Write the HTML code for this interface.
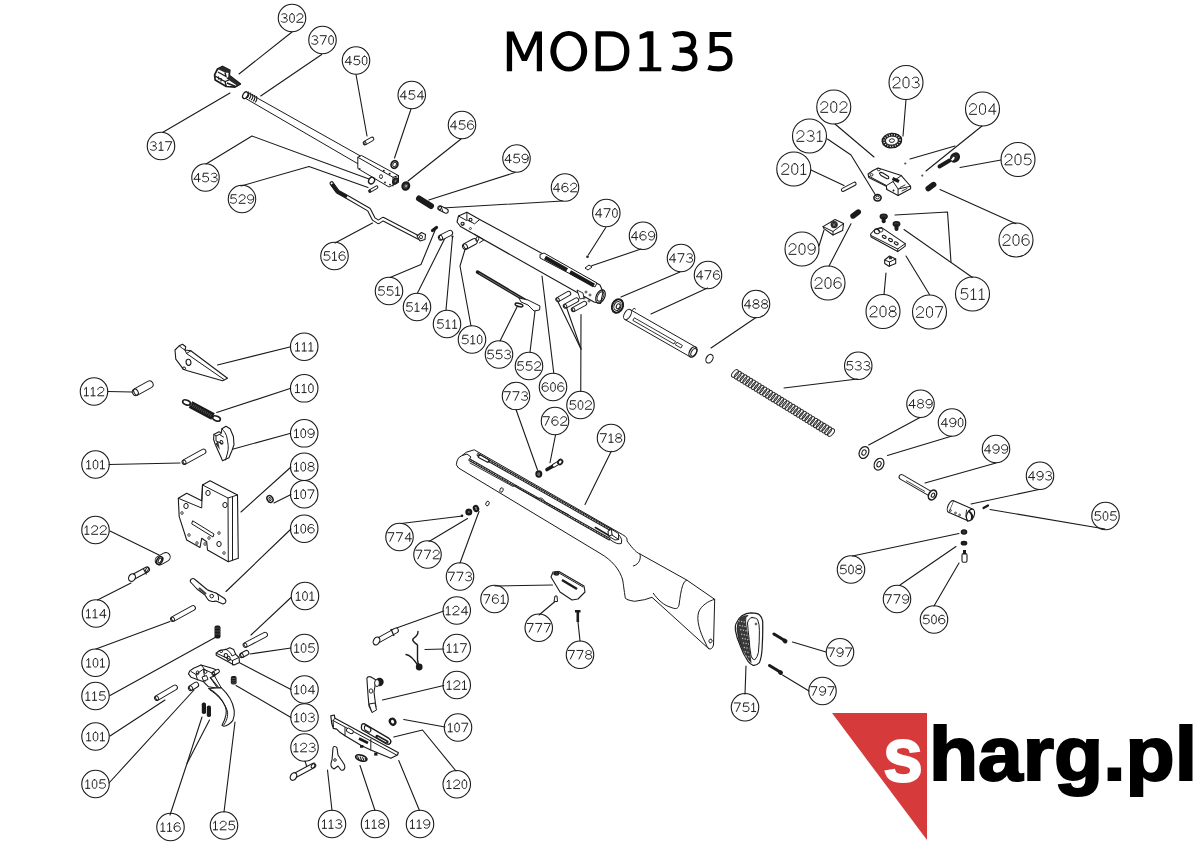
<!DOCTYPE html><html><head><meta charset="utf-8"><style>html,body{margin:0;padding:0;background:#fff;width:1200px;height:848px;overflow:hidden}svg{display:block}text{font-family:"Liberation Sans",sans-serif}</style></head><body>
<svg width="1200" height="848" viewBox="0 0 1200 848">
<g fill="none" stroke="#1a1a1a" stroke-width="1.1" stroke-linejoin="round" stroke-linecap="round">
<polyline points="292,32 239,74"/>
<polyline points="321.7,54.5 260.7,96"/>
<polyline points="162.5,132.5 230,93"/>
<polyline points="206,164 252,136 369,179"/>
<polyline points="241,186 309,166.5 368,187.6"/>
<polyline points="356,74.5 367,136"/>
<polyline points="411,109 394.5,158"/>
<polyline points="461,139 408,181"/>
<polyline points="515,172.5 428.75,200"/>
<polyline points="562.5,201 442.5,208"/>
<polyline points="335,243 372.5,223"/>
<polyline points="390,277.5 421,264.5 436,228"/>
<polyline points="417.5,293 445,238"/>
<polyline points="446,310 452.5,237"/>
<polyline points="471,326 460,266 465,249.5"/>
<polyline points="500,341 517.5,306"/>
<polyline points="530,352 535,311"/>
<polyline points="553.75,373 542,276"/>
<polyline points="580.75,391.5 581,314.5"/>
<polyline points="581,349 557.5,300.75"/>
<polyline points="581,349 566,306"/>
<polyline points="516,409.5 537.5,470"/>
<polyline points="555.5,435 550,462.75"/>
<polyline points="605.8,227.5 588.3,255"/>
<polyline points="641,249 591.7,265.8"/>
<polyline points="680,272 621,297"/>
<polyline points="707.5,288 651,314"/>
<polyline points="756,317.5 711,348"/>
<polyline points="857.5,379 784,388"/>
<polyline points="611.25,451.25 585,504.5"/>
<polyline points="920,417.5 868.75,445"/>
<polyline points="951.25,436.25 887.5,455.5"/>
<polyline points="996,463 925,483"/>
<polyline points="1039,489.5 971,504"/>
<polyline points="1105,529 990,509.5"/>
<polyline points="852.5,556 959,533.5"/>
<polyline points="900,585 956,546.5"/>
<polyline points="934,606 959,563"/>
<polyline points="401,523.5 462.5,516"/>
<polyline points="429,541.5 467.5,518.5"/>
<polyline points="460,563 479,511.5"/>
<polyline points="495,586 552.5,585"/>
<polyline points="539,615 555,601.5"/>
<polyline points="580,641 578,622"/>
<polyline points="443.75,611 391,630"/>
<polyline points="443.75,649 425,649.5"/>
<polyline points="443.75,685.5 382.5,700"/>
<polyline points="445,727 403.75,719.5"/>
<polyline points="456,771 422.5,730 393.75,737"/>
<polyline points="332,810.5 327.5,770"/>
<polyline points="375,810.5 360,765.5"/>
<polyline points="419.5,810.5 398.75,760.5"/>
<polyline points="826,652 792.5,642"/>
<polyline points="809,691 782.5,675"/>
<polyline points="745,694 746,666"/>
<polyline points="290.8,346.7 217.5,365"/>
<polyline points="290.8,388.3 216.7,412.5"/>
<polyline points="290.8,433.3 232.5,449.2"/>
<polyline points="108,391.5 132,392"/>
<polyline points="109,464.5 180,463"/>
<polyline points="291,467 241,512"/>
<polyline points="291,494.5 274,503"/>
<polyline points="291,529 226,591.5"/>
<polyline points="110,531 159,555"/>
<polyline points="97.5,600 131,583"/>
<polyline points="96,649 170,621.5"/>
<polyline points="110,695.5 216,637"/>
<polyline points="110,736 165,700"/>
<polyline points="109,783 194,690"/>
<polyline points="170,815 187,763.5 202,717"/>
<polyline points="187,763.5 209.5,720"/>
<polyline points="224,812 235,722"/>
<polyline points="291,597.5 251,635"/>
<polyline points="291,648 250,654"/>
<polyline points="291,689.5 240,663"/>
<polyline points="291,717.5 236,685.5"/>
<polyline points="305,761 307.5,769"/>
<polyline points="906,99.5 903,136"/>
<polyline points="835,124 874,157"/>
<polyline points="827.5,139 851,155 875.5,195"/>
<polyline points="811,170 844,185.5"/>
<polyline points="982,126 926,171"/>
<polyline points="955,146 910,159"/>
<polyline points="1001,160 960,167.5"/>
<polyline points="1016,223.75 940,189.5"/>
<polyline points="819,246 824,230"/>
<polyline points="829,266 851,223.75"/>
<polyline points="884,294.5 886,273"/>
<polyline points="929.5,294.5 906,256"/>
<polyline points="972.5,277.5 904,229.5"/>
<polyline points="895,215 947.5,212 951,262"/>
<circle cx="292" cy="18" r="13.75"/>
<circle cx="322.5" cy="40" r="13.75"/>
<circle cx="356" cy="60.5" r="13.75"/>
<circle cx="411.75" cy="95" r="13.75"/>
<circle cx="462" cy="125" r="13.75"/>
<circle cx="516.5" cy="158.5" r="13.75"/>
<circle cx="565" cy="187.5" r="13.75"/>
<circle cx="161" cy="146" r="13.75"/>
<circle cx="205.5" cy="177.5" r="13.75"/>
<circle cx="242" cy="199" r="13.75"/>
<circle cx="334.5" cy="256" r="13.75"/>
<circle cx="389" cy="291" r="13.75"/>
<circle cx="417" cy="307" r="13.75"/>
<circle cx="447" cy="324" r="13.75"/>
<circle cx="472" cy="339.5" r="13.75"/>
<circle cx="499" cy="354.5" r="13.75"/>
<circle cx="529" cy="366" r="13.75"/>
<circle cx="553" cy="387" r="13.75"/>
<circle cx="516" cy="396" r="13.75"/>
<circle cx="580.5" cy="405" r="13.75"/>
<circle cx="606.3" cy="213" r="13.75"/>
<circle cx="643" cy="235.75" r="13.75"/>
<circle cx="681" cy="258" r="13.75"/>
<circle cx="708" cy="275" r="13.75"/>
<circle cx="756" cy="304" r="13.75"/>
<circle cx="858.25" cy="365.75" r="13.75"/>
<circle cx="555" cy="421" r="13.75"/>
<circle cx="611" cy="438" r="13.75"/>
<circle cx="920.5" cy="403.75" r="13.75"/>
<circle cx="952" cy="422.5" r="13.75"/>
<circle cx="996" cy="449" r="13.75"/>
<circle cx="1040" cy="475.75" r="13.75"/>
<circle cx="1105.5" cy="516" r="13.75"/>
<circle cx="851" cy="569.5" r="13.75"/>
<circle cx="897" cy="599" r="13.75"/>
<circle cx="934" cy="619.5" r="13.75"/>
<circle cx="399.5" cy="537" r="13.75"/>
<circle cx="427.5" cy="554.5" r="13.75"/>
<circle cx="460" cy="576.5" r="13.75"/>
<circle cx="494.5" cy="599" r="13.75"/>
<circle cx="538.75" cy="627.75" r="13.75"/>
<circle cx="580" cy="654.75" r="13.75"/>
<circle cx="456.75" cy="610.5" r="13.75"/>
<circle cx="456.75" cy="648" r="13.75"/>
<circle cx="456.75" cy="685" r="13.75"/>
<circle cx="458" cy="727.5" r="13.75"/>
<circle cx="456.75" cy="784.25" r="13.75"/>
<circle cx="332" cy="824" r="13.75"/>
<circle cx="375" cy="824" r="13.75"/>
<circle cx="420" cy="824" r="13.75"/>
<circle cx="840" cy="652.25" r="13.75"/>
<circle cx="822.5" cy="691" r="13.75"/>
<circle cx="745" cy="707.25" r="13.75"/>
<circle cx="304.2" cy="346.7" r="13.75"/>
<circle cx="304.2" cy="388.3" r="13.75"/>
<circle cx="94" cy="391.5" r="13.75"/>
<circle cx="304.2" cy="433.3" r="13.75"/>
<circle cx="95.5" cy="464.5" r="13.75"/>
<circle cx="304.2" cy="466.7" r="13.75"/>
<circle cx="304.2" cy="494.2" r="13.75"/>
<circle cx="95.5" cy="530" r="13.75"/>
<circle cx="304.2" cy="528.7" r="13.75"/>
<circle cx="96" cy="613.5" r="13.75"/>
<circle cx="305" cy="596" r="13.75"/>
<circle cx="304.5" cy="648" r="13.75"/>
<circle cx="304.5" cy="689.5" r="13.75"/>
<circle cx="304.5" cy="717.5" r="13.75"/>
<circle cx="304.5" cy="747.5" r="13.75"/>
<circle cx="95.5" cy="662.75" r="13.75"/>
<circle cx="95.5" cy="696" r="13.75"/>
<circle cx="95.5" cy="736.5" r="13.75"/>
<circle cx="95.5" cy="784" r="13.75"/>
<circle cx="170.5" cy="827" r="13.75"/>
<circle cx="224" cy="825.5" r="13.75"/>
<circle cx="906" cy="82.5" r="17"/>
<circle cx="833.75" cy="107" r="17"/>
<circle cx="982.5" cy="109" r="17"/>
<circle cx="809.5" cy="136" r="17"/>
<circle cx="1018" cy="159.5" r="17"/>
<circle cx="793.75" cy="169" r="17"/>
<circle cx="1016" cy="240" r="17"/>
<circle cx="802" cy="249" r="17"/>
<circle cx="828" cy="283" r="17"/>
<circle cx="972.5" cy="294" r="17"/>
<circle cx="883" cy="311.5" r="17"/>
<circle cx="929.5" cy="312" r="17"/>
</g>
<g><polygon points="214.6,74.8 217.5,69 222.5,66.4 229.8,70.2 229.2,75.4 240.3,83.9 235,87.1 226.3,86.5 215.2,80.1" fill="#fff" stroke="#1a1a1a" stroke-width="1.7" stroke-linejoin="round"/>
<path d="M217.5,69 L222.5,66.4 L229.8,70.2 L229.5,73 L225,72.5 Z" fill="#2a2a2a"/>
<path d="M229.2,75.4 L240.3,83.9 L236.5,85.2 L226.5,78.5 Z" fill="#2a2a2a"/>
<path d="M215,76 L225,81.5 L229,80 M225,81.5 L226.3,86.5 M218,72 L226,76.5 L225,72.5 M221,78 l0,3.5 M218.5,76.5 l0,3" fill="none" stroke="#1a1a1a" stroke-width="1.3"/>
<path d="M227,83 L235,86.3" stroke="#1a1a1a" stroke-width="1.6"/>
<polygon points="246.6,92 361.5,156.6 357.8,163.7 245.6,98.4" fill="#fff" stroke="#1a1a1a" stroke-width="1.0" stroke-linejoin="round"/>
<ellipse cx="245.3" cy="95.2" rx="2.3" ry="3.6" transform="rotate(30 245.3 95.2)" fill="#fff" stroke="#1a1a1a" stroke-width="1.3"/>
<path d="M248.5,91.6 Q249.7,95.3 247.1,97.9" fill="none" stroke="#1a1a1a" stroke-width="1.1"/>
<path d="M250.5,92.7 Q251.7,96.4 249.1,99.0" fill="none" stroke="#1a1a1a" stroke-width="1.1"/>
<path d="M252.5,93.8 Q253.7,97.5 251.1,100.1" fill="none" stroke="#1a1a1a" stroke-width="1.1"/>
<path d="M254.5,95.0 Q255.7,98.7 253.1,101.3" fill="none" stroke="#1a1a1a" stroke-width="1.1"/>
<path d="M256.5,96.1 Q257.7,99.8 255.1,102.4" fill="none" stroke="#1a1a1a" stroke-width="1.1"/>
<polygon points="357.8,157.3 361.5,155.5 398.5,175.5 398.5,182.5 389,187 357.8,168.5" fill="#fff" stroke="#1a1a1a" stroke-width="1.0" stroke-linejoin="round"/>
<path d="M357.8,157.3 L393,177.3 L398.5,175.5 M393,177.3 L393,186" fill="none" stroke="#1a1a1a" stroke-width="1.0" stroke-linejoin="round" stroke-linecap="round"/>
<ellipse cx="395.3" cy="181" rx="2.3" ry="3.3" transform="rotate(30 395.3 181)" fill="#333" stroke="#1a1a1a" stroke-width="1.2"/>
<ellipse cx="395.6" cy="181" rx="1" ry="1.6" transform="rotate(30 395.6 181)" fill="#888" stroke="#1a1a1a" stroke-width="0.6"/>
<ellipse cx="381" cy="176.6" rx="1.5" ry="2" transform="rotate(0 381 176.6)" fill="none" stroke="#1a1a1a" stroke-width="0.9"/>
<circle cx="383.8" cy="170.8" r="1" fill="#1a1a1a"/><circle cx="389.6" cy="173.8" r="1" fill="#1a1a1a"/><circle cx="385" cy="182.5" r="0.9" fill="#1a1a1a"/><circle cx="390" cy="184.6" r="0.9" fill="#1a1a1a"/><circle cx="359.8" cy="168.8" r="0.8" fill="#1a1a1a"/>
<line x1="365" y1="143" x2="372" y2="139" stroke="#1a1a1a" stroke-width="4.6" stroke-linecap="round"/>
<line x1="365" y1="143" x2="372" y2="139" stroke="#fff" stroke-width="2.6" stroke-linecap="round"/>
<ellipse cx="365" cy="143" rx="0.99" ry="1.50" transform="rotate(-29.7 365 143)" fill="none" stroke="#1a1a1a" stroke-width="1.0"/>
<ellipse cx="394.5" cy="164.5" rx="3.3" ry="3.9" transform="rotate(25 394.5 164.5)" fill="none" stroke="#1a1a1a" stroke-width="1.7"/>
<ellipse cx="394.6" cy="164.5" rx="1.7" ry="2.3" transform="rotate(25 394.6 164.5)" fill="none" stroke="#1a1a1a" stroke-width="0.9"/>
<ellipse cx="371.6" cy="180.6" rx="2.8" ry="3.5" transform="rotate(30 371.6 180.6)" fill="none" stroke="#1a1a1a" stroke-width="1.4"/>
<line x1="370" y1="191" x2="376.5" y2="187.2" stroke="#1a1a1a" stroke-width="3.6" stroke-linecap="round"/>
<line x1="370" y1="191" x2="376.5" y2="187.2" stroke="#fff" stroke-width="1.6" stroke-linecap="round"/>
<ellipse cx="370" cy="191" rx="0.72" ry="1.00" transform="rotate(-30.3 370 191)" fill="none" stroke="#1a1a1a" stroke-width="1.0"/>
<ellipse cx="405.8" cy="186" rx="3.3" ry="3.7" transform="rotate(30 405.8 186)" fill="#555" stroke="#1a1a1a" stroke-width="2.2"/>
<ellipse cx="406.2" cy="186" rx="1.3" ry="1.7" transform="rotate(30 406.2 186)" fill="#aaa" stroke="#1a1a1a" stroke-width="0.6"/>
<line x1="419" y1="198.5" x2="431" y2="206" stroke="#1a1a1a" stroke-width="6" stroke-linecap="round"/>
<line x1="440" y1="208" x2="446" y2="211" stroke="#1a1a1a" stroke-width="5.4" stroke-linecap="round"/>
<line x1="440" y1="208" x2="446" y2="211" stroke="#fff" stroke-width="3.4000000000000004" stroke-linecap="round"/>
<ellipse cx="440" cy="208" rx="1.21" ry="1.90" transform="rotate(26.6 440 208)" fill="none" stroke="#1a1a1a" stroke-width="1.0"/>
<line x1="441" y1="206" x2="443" y2="212" stroke="#1a1a1a" stroke-width="0.9"/>
<path d="M331.7,183.4 L337.5,191.6 L346.9,196.9 L369,209.7 L373.7,219 L378.4,222 L383,219 L418.5,237.5" fill="none" stroke="#1a1a1a" stroke-width="4.4" stroke-linejoin="round" stroke-linecap="round"/>
<path d="M331.7,183.4 L337.5,191.6 L346.9,196.9 L369,209.7 L373.7,219 L378.4,222 L383,219 L418.5,237.5" fill="none" stroke="#fff" stroke-width="2.2" stroke-linejoin="round" stroke-linecap="round"/>
<path d="M332,184 L337.5,191.6 L346.9,196.9" fill="none" stroke="#1a1a1a" stroke-width="3.2" stroke-linejoin="round"/>
<polygon points="417,236 421.5,232.5 425.5,234.5 425,239.5 420,241" fill="#fff" stroke="#1a1a1a" stroke-width="1.1" stroke-linejoin="round"/>
<ellipse cx="421" cy="237" rx="1.5" ry="1.8" transform="rotate(0 421 237)" fill="none" stroke="#1a1a1a" stroke-width="0.9"/>
<line x1="432.5" y1="230.5" x2="436.5" y2="227.5" stroke="#1a1a1a" stroke-width="3.2" stroke-linecap="round"/>
<line x1="441" y1="237.5" x2="450" y2="233" stroke="#1a1a1a" stroke-width="6.2" stroke-linecap="round"/>
<line x1="441" y1="237.5" x2="450" y2="233" stroke="#fff" stroke-width="4.2" stroke-linecap="round"/>
<ellipse cx="441" cy="237.5" rx="1.43" ry="2.30" transform="rotate(-26.6 441 237.5)" fill="none" stroke="#1a1a1a" stroke-width="1.0"/>
<circle cx="452.5" cy="236.5" r="1.1" fill="#1a1a1a"/>
<line x1="465.5" y1="246.3" x2="474.2" y2="241.6" stroke="#1a1a1a" stroke-width="7.0" stroke-linecap="round"/>
<line x1="465.5" y1="246.3" x2="474.2" y2="241.6" stroke="#fff" stroke-width="5.0" stroke-linecap="round"/>
<ellipse cx="465.5" cy="246.3" rx="1.65" ry="2.70" transform="rotate(-28.4 465.5 246.3)" fill="none" stroke="#1a1a1a" stroke-width="1.0"/>
<polygon points="458.5,216 466.9,212.3 479.7,219.5 600,285 603,292 600.5,303.5 594,302 460.5,226.5 457,222" fill="#fff" stroke="#1a1a1a" stroke-width="1.1" stroke-linejoin="round"/>
<path d="M458.5,216 L466.5,220.5 M466.9,212.3 L466.9,219.8 L474.6,223.8 L479.7,219.5" fill="none" stroke="#1a1a1a" stroke-width="1.0" stroke-linejoin="round" stroke-linecap="round"/>
<ellipse cx="470.6" cy="219.8" rx="1.4" ry="1.5" transform="rotate(0 470.6 219.8)" fill="none" stroke="#1a1a1a" stroke-width="1.1"/>
<ellipse cx="462.6" cy="223.8" rx="1.6" ry="1.6" transform="rotate(0 462.6 223.8)" fill="none" stroke="#1a1a1a" stroke-width="1.1"/>
<circle cx="463.3" cy="224.3" r="0.8" fill="#1a1a1a"/>
<circle cx="470.4" cy="228.5" r="1" fill="none" stroke="#1a1a1a" stroke-width="0.8"/>
<ellipse cx="600.5" cy="296.5" rx="4.2" ry="7" transform="rotate(25 600.5 296.5)" fill="none" stroke="#1a1a1a" stroke-width="1.2"/>
<ellipse cx="600.5" cy="296.5" rx="2.8" ry="5" transform="rotate(25 600.5 296.5)" fill="none" stroke="#1a1a1a" stroke-width="0.9"/>
<path d="M474.6,234.3 L484,239.8 L479.5,242.8" fill="none" stroke="#1a1a1a" stroke-width="1.0" stroke-linejoin="round" stroke-linecap="round"/>
<ellipse cx="477.3" cy="239" rx="1.4" ry="2.3" transform="rotate(25 477.3 239)" fill="none" stroke="#1a1a1a" stroke-width="0.9"/>
<polygon points="540,254.5 544,253 597,283 595,287 540,258" fill="#fff" stroke="#1a1a1a" stroke-width="1" stroke-linejoin="round"/>
<path d="M545,257.5 L567,270 M570,272 L594,285.5" stroke="#1a1a1a" stroke-width="4.2"/>
<circle cx="586" cy="292" r="1" fill="none" stroke="#1a1a1a" stroke-width="0.8"/>
<circle cx="590" cy="295" r="1" fill="none" stroke="#1a1a1a" stroke-width="0.8"/>
<circle cx="584" cy="298" r="1" fill="none" stroke="#1a1a1a" stroke-width="0.8"/>
<circle cx="589" cy="301" r="1" fill="none" stroke="#1a1a1a" stroke-width="0.8"/>
<polygon points="577,290 583,293 584,298 580,299" fill="#fff" stroke="#1a1a1a" stroke-width="0.9" stroke-linejoin="round"/>
<line x1="477.5" y1="272" x2="528" y2="302" stroke="#1a1a1a" stroke-width="3.4" stroke-linecap="round"/>
<line x1="479" y1="273" x2="526" y2="301" stroke="#888" stroke-width="0.8"/>
<polygon points="519,298 528,300 540,306 539.5,310 534,311 528,305 521,302" fill="#fff" stroke="#1a1a1a" stroke-width="1" stroke-linejoin="round"/>
<ellipse cx="519" cy="305" rx="4" ry="1.6" transform="rotate(15 519 305)" fill="none" stroke="#1a1a1a" stroke-width="1.4"/>
<line x1="558" y1="299.5" x2="568.5" y2="293.5" stroke="#1a1a1a" stroke-width="5.4" stroke-linecap="round"/>
<line x1="558" y1="299.5" x2="568.5" y2="293.5" stroke="#fff" stroke-width="3.4000000000000004" stroke-linecap="round"/>
<ellipse cx="558" cy="299.5" rx="1.21" ry="1.90" transform="rotate(-29.7 558 299.5)" fill="none" stroke="#1a1a1a" stroke-width="1.0"/>
<line x1="565.5" y1="306" x2="576.5" y2="300" stroke="#1a1a1a" stroke-width="5.4" stroke-linecap="round"/>
<line x1="565.5" y1="306" x2="576.5" y2="300" stroke="#fff" stroke-width="3.4000000000000004" stroke-linecap="round"/>
<ellipse cx="565.5" cy="306" rx="1.21" ry="1.90" transform="rotate(-28.6 565.5 306)" fill="none" stroke="#1a1a1a" stroke-width="1.0"/>
<line x1="573.5" y1="309.5" x2="584.5" y2="303.5" stroke="#1a1a1a" stroke-width="5.4" stroke-linecap="round"/>
<line x1="573.5" y1="309.5" x2="584.5" y2="303.5" stroke="#fff" stroke-width="3.4000000000000004" stroke-linecap="round"/>
<ellipse cx="573.5" cy="309.5" rx="1.21" ry="1.90" transform="rotate(-28.6 573.5 309.5)" fill="none" stroke="#1a1a1a" stroke-width="1.0"/>
<circle cx="587.5" cy="256.7" r="1.3" fill="#1a1a1a"/>
<polygon points="585,268 589,265 592,267 588,270" fill="#fff" stroke="#1a1a1a" stroke-width="1" stroke-linejoin="round"/>
<ellipse cx="617.5" cy="306" rx="5.3" ry="6.9" transform="rotate(25 617.5 306)" fill="#fff" stroke="#1a1a1a" stroke-width="2.0"/>
<ellipse cx="617.5" cy="306" rx="3.4" ry="4.6" transform="rotate(25 617.5 306)" fill="none" stroke="#1a1a1a" stroke-width="1.0"/>
<ellipse cx="618.2" cy="306.3" rx="1.8" ry="2.6" transform="rotate(25 618.2 306.3)" fill="none" stroke="#1a1a1a" stroke-width="1.0"/>
<polygon points="624.717627681875,319.359876982325 690.217627681875,356.859876982325 695.782372318125,347.140123017675 630.282372318125,309.640123017675" fill="#fff" stroke="#1a1a1a" stroke-width="1.0" stroke-linejoin="round"/>
<ellipse cx="627.5" cy="314.5" rx="3.2" ry="5.6" transform="rotate(29.6 627.5 314.5)" fill="#fff" stroke="#1a1a1a" stroke-width="1.0"/>
<ellipse cx="693" cy="352" rx="3.4" ry="5.6" transform="rotate(29.6 693 352)" fill="#fff" stroke="#1a1a1a" stroke-width="1.3"/>
<ellipse cx="693.8" cy="352.4" rx="2.4" ry="4.199999999999999" transform="rotate(29.6 693.8 352.4)" fill="none" stroke="#1a1a1a" stroke-width="1.0"/>
<path d="M633.2,320.6 L674.0,344.0 L675.5,341.4 L634.7,318.0 Z" fill="none" stroke="#1a1a1a" stroke-width="0.9" stroke-linejoin="round" stroke-linecap="round"/>
<path d="M675.7,345.0 L680.9,348.0 L682.4,345.4 L677.2,342.4 Z" fill="none" stroke="#1a1a1a" stroke-width="0.9" stroke-linejoin="round" stroke-linecap="round"/>
<path d="M632.0,310.6 l2,-2.5 l1.5,1" fill="none" stroke="#1a1a1a" stroke-width="0.9" stroke-linejoin="round" stroke-linecap="round"/>
<ellipse cx="709.5" cy="358.7" rx="3.2" ry="4.6" transform="rotate(30 709.5 358.7)" fill="none" stroke="#1a1a1a" stroke-width="1.1"/>
<ellipse cx="735.0" cy="373.5" rx="2.4" ry="4.5" transform="rotate(40 735.0 373.5)" fill="none" stroke="#2a2a2a" stroke-width="1.0"/>
<ellipse cx="737.8" cy="375.2" rx="2.4" ry="4.5" transform="rotate(40 737.8 375.2)" fill="none" stroke="#2a2a2a" stroke-width="1.0"/>
<ellipse cx="740.6" cy="377.0" rx="2.4" ry="4.5" transform="rotate(40 740.6 377.0)" fill="none" stroke="#2a2a2a" stroke-width="1.0"/>
<ellipse cx="743.5" cy="378.7" rx="2.4" ry="4.5" transform="rotate(40 743.5 378.7)" fill="none" stroke="#2a2a2a" stroke-width="1.0"/>
<ellipse cx="746.3" cy="380.4" rx="2.4" ry="4.5" transform="rotate(40 746.3 380.4)" fill="none" stroke="#2a2a2a" stroke-width="1.0"/>
<ellipse cx="749.1" cy="382.2" rx="2.4" ry="4.5" transform="rotate(40 749.1 382.2)" fill="none" stroke="#2a2a2a" stroke-width="1.0"/>
<ellipse cx="751.9" cy="383.9" rx="2.4" ry="4.5" transform="rotate(40 751.9 383.9)" fill="none" stroke="#2a2a2a" stroke-width="1.0"/>
<ellipse cx="754.8" cy="385.6" rx="2.4" ry="4.5" transform="rotate(40 754.8 385.6)" fill="none" stroke="#2a2a2a" stroke-width="1.0"/>
<ellipse cx="757.6" cy="387.4" rx="2.4" ry="4.5" transform="rotate(40 757.6 387.4)" fill="none" stroke="#2a2a2a" stroke-width="1.0"/>
<ellipse cx="760.4" cy="389.1" rx="2.4" ry="4.5" transform="rotate(40 760.4 389.1)" fill="none" stroke="#2a2a2a" stroke-width="1.0"/>
<ellipse cx="763.2" cy="390.9" rx="2.4" ry="4.5" transform="rotate(40 763.2 390.9)" fill="none" stroke="#2a2a2a" stroke-width="1.0"/>
<ellipse cx="766.1" cy="392.6" rx="2.4" ry="4.5" transform="rotate(40 766.1 392.6)" fill="none" stroke="#2a2a2a" stroke-width="1.0"/>
<ellipse cx="768.9" cy="394.3" rx="2.4" ry="4.5" transform="rotate(40 768.9 394.3)" fill="none" stroke="#2a2a2a" stroke-width="1.0"/>
<ellipse cx="771.7" cy="396.1" rx="2.4" ry="4.5" transform="rotate(40 771.7 396.1)" fill="none" stroke="#2a2a2a" stroke-width="1.0"/>
<ellipse cx="774.5" cy="397.8" rx="2.4" ry="4.5" transform="rotate(40 774.5 397.8)" fill="none" stroke="#2a2a2a" stroke-width="1.0"/>
<ellipse cx="777.4" cy="399.5" rx="2.4" ry="4.5" transform="rotate(40 777.4 399.5)" fill="none" stroke="#2a2a2a" stroke-width="1.0"/>
<ellipse cx="780.2" cy="401.3" rx="2.4" ry="4.5" transform="rotate(40 780.2 401.3)" fill="none" stroke="#2a2a2a" stroke-width="1.0"/>
<ellipse cx="783.0" cy="403.0" rx="2.4" ry="4.5" transform="rotate(40 783.0 403.0)" fill="none" stroke="#2a2a2a" stroke-width="1.0"/>
<ellipse cx="785.8" cy="404.7" rx="2.4" ry="4.5" transform="rotate(40 785.8 404.7)" fill="none" stroke="#2a2a2a" stroke-width="1.0"/>
<ellipse cx="788.6" cy="406.5" rx="2.4" ry="4.5" transform="rotate(40 788.6 406.5)" fill="none" stroke="#2a2a2a" stroke-width="1.0"/>
<ellipse cx="791.5" cy="408.2" rx="2.4" ry="4.5" transform="rotate(40 791.5 408.2)" fill="none" stroke="#2a2a2a" stroke-width="1.0"/>
<ellipse cx="794.3" cy="409.9" rx="2.4" ry="4.5" transform="rotate(40 794.3 409.9)" fill="none" stroke="#2a2a2a" stroke-width="1.0"/>
<ellipse cx="797.1" cy="411.7" rx="2.4" ry="4.5" transform="rotate(40 797.1 411.7)" fill="none" stroke="#2a2a2a" stroke-width="1.0"/>
<ellipse cx="799.9" cy="413.4" rx="2.4" ry="4.5" transform="rotate(40 799.9 413.4)" fill="none" stroke="#2a2a2a" stroke-width="1.0"/>
<ellipse cx="802.8" cy="415.1" rx="2.4" ry="4.5" transform="rotate(40 802.8 415.1)" fill="none" stroke="#2a2a2a" stroke-width="1.0"/>
<ellipse cx="805.6" cy="416.9" rx="2.4" ry="4.5" transform="rotate(40 805.6 416.9)" fill="none" stroke="#2a2a2a" stroke-width="1.0"/>
<ellipse cx="808.4" cy="418.6" rx="2.4" ry="4.5" transform="rotate(40 808.4 418.6)" fill="none" stroke="#2a2a2a" stroke-width="1.0"/>
<ellipse cx="811.2" cy="420.4" rx="2.4" ry="4.5" transform="rotate(40 811.2 420.4)" fill="none" stroke="#2a2a2a" stroke-width="1.0"/>
<ellipse cx="814.1" cy="422.1" rx="2.4" ry="4.5" transform="rotate(40 814.1 422.1)" fill="none" stroke="#2a2a2a" stroke-width="1.0"/>
<ellipse cx="816.9" cy="423.8" rx="2.4" ry="4.5" transform="rotate(40 816.9 423.8)" fill="none" stroke="#2a2a2a" stroke-width="1.0"/>
<ellipse cx="819.7" cy="425.6" rx="2.4" ry="4.5" transform="rotate(40 819.7 425.6)" fill="none" stroke="#2a2a2a" stroke-width="1.0"/>
<ellipse cx="822.5" cy="427.3" rx="2.4" ry="4.5" transform="rotate(40 822.5 427.3)" fill="none" stroke="#2a2a2a" stroke-width="1.0"/>
<ellipse cx="825.4" cy="429.0" rx="2.4" ry="4.5" transform="rotate(40 825.4 429.0)" fill="none" stroke="#2a2a2a" stroke-width="1.0"/>
<ellipse cx="828.2" cy="430.8" rx="2.4" ry="4.5" transform="rotate(40 828.2 430.8)" fill="none" stroke="#2a2a2a" stroke-width="1.0"/>
<ellipse cx="831.0" cy="432.5" rx="2.4" ry="4.5" transform="rotate(40 831.0 432.5)" fill="none" stroke="#2a2a2a" stroke-width="1.0"/>
<ellipse cx="864" cy="452.5" rx="4.6" ry="6.2" transform="rotate(25 864 452.5)" fill="none" stroke="#1a1a1a" stroke-width="1.2"/>
<ellipse cx="864" cy="452.5" rx="2" ry="2.8" transform="rotate(25 864 452.5)" fill="none" stroke="#1a1a1a" stroke-width="1"/>
<ellipse cx="879" cy="464.2" rx="4.6" ry="6.2" transform="rotate(25 879 464.2)" fill="none" stroke="#1a1a1a" stroke-width="1.2"/>
<ellipse cx="879" cy="464.2" rx="2" ry="2.8" transform="rotate(25 879 464.2)" fill="none" stroke="#1a1a1a" stroke-width="1"/>
<line x1="901.5" y1="477" x2="930" y2="493.5" stroke="#1a1a1a" stroke-width="5.8" stroke-linecap="round"/>
<line x1="901.5" y1="477" x2="930" y2="493.5" stroke="#fff" stroke-width="3.8" stroke-linecap="round"/>
<ellipse cx="932.5" cy="495" rx="3.7" ry="5.2" transform="rotate(30 932.5 495)" fill="#fff" stroke="#1a1a1a" stroke-width="1.6"/>
<ellipse cx="933" cy="495.2" rx="1.5" ry="2.2" transform="rotate(30 933 495.2)" fill="none" stroke="#1a1a1a" stroke-width="1"/>
<line x1="906" y1="480.5" x2="925" y2="491.5" stroke="#1a1a1a" stroke-width="0.8"/>
<path d="M948.5,512.2 L968.0,520.7 L973.0,509.3 L953.5,500.8 Z" fill="#fff" stroke="#1a1a1a" stroke-width="1.1"/>
<path d="M953.5,500.8 A3,6.2 23.6 0 0 948.5,512.2" fill="#fff" stroke="#1a1a1a" stroke-width="1.1"/>
<ellipse cx="970.5" cy="515" rx="3.6" ry="6.2" transform="rotate(23.55226367289465 970.5 515)" fill="#fff" stroke="#1a1a1a" stroke-width="1.1"/>
<path d="M968.5,511.0 Q973.5,514.0 971.5,520.0" fill="none" stroke="#1a1a1a" stroke-width="2"/>
<path d="M966.5,510.0 Q964.5,516.0 967.5,521.5" fill="none" stroke="#1a1a1a" stroke-width="0.9" stroke-linejoin="round" stroke-linecap="round"/>
<circle cx="950.5" cy="510.5" r="0.9" fill="none" stroke="#1a1a1a" stroke-width="0.8"/>
<circle cx="955.5" cy="513" r="0.9" fill="none" stroke="#1a1a1a" stroke-width="0.8"/>
<circle cx="959.6" cy="515" r="0.9" fill="none" stroke="#1a1a1a" stroke-width="0.8"/>
<line x1="983.5" y1="508" x2="988" y2="505.5" stroke="#1a1a1a" stroke-width="2.2" stroke-linecap="round"/>
<ellipse cx="964" cy="532" rx="2.5" ry="2" transform="rotate(0 964 532)" fill="#333" stroke="#1a1a1a" stroke-width="1.6"/>
<ellipse cx="964" cy="543.2" rx="2.6" ry="1.6" transform="rotate(0 964 543.2)" fill="#222" stroke="#1a1a1a" stroke-width="1.5"/>
<rect x="962" y="553.5" width="5" height="8.8" rx="1.5" fill="#fff" stroke="#1a1a1a" stroke-width="1.1"/>
<rect x="963" y="550" width="3" height="4.5" fill="#1a1a1a"/>
<ellipse cx="891.9" cy="140.6" rx="9.8" ry="7.2" transform="rotate(-6 891.9 140.6)" fill="#222" stroke="#1a1a1a" stroke-width="1.2"/>
<ellipse cx="891.9" cy="140.6" rx="6.4" ry="4.4" transform="rotate(-6 891.9 140.6)" fill="#fff" stroke="#1a1a1a" stroke-width="0.8"/>
<ellipse cx="891.9" cy="140.6" rx="8" ry="5.8" transform="rotate(-6 891.9 140.6)" fill="none" stroke="#fff" stroke-width="1.4" stroke-dasharray="0.9,1.6"/>
<ellipse cx="891.9" cy="140.6" rx="2.6" ry="1.8" transform="rotate(-6 891.9 140.6)" fill="none" stroke="#1a1a1a" stroke-width="0.9"/>
<polygon points="868.1,174 873,170.5 878.1,168.1 901.25,175.6 910.6,186.25 910.6,188.75 898.1,195.6 886.9,189.4 886.25,186.25 868.75,177.5" fill="#fff" stroke="#1a1a1a" stroke-width="1.1" stroke-linejoin="round"/>
<path d="M868.5,176 L886.5,185.5 L893,181.5 L901.25,175.6 M886.5,185.5 L886.5,189.4 M893,181.5 L898.1,189 L910.6,186.25 M898.1,189 L898.1,195.6" fill="none" stroke="#1a1a1a" stroke-width="1.0" stroke-linejoin="round" stroke-linecap="round"/>
<path d="M879.5,173.5 Q880,171.5 883,173 L888.5,176.5 Q889.5,179 887,178.8 L881,175.5 Z" fill="none" stroke="#1a1a1a" stroke-width="1.1" stroke-linejoin="round" stroke-linecap="round"/>
<path d="M892.5,178.5 L899,181.5" stroke="#1a1a1a" stroke-width="3.2"/>
<path d="M900,187.5 L905,185 M902,191 L907,188.5" fill="none" stroke="#1a1a1a" stroke-width="0.9" stroke-linejoin="round" stroke-linecap="round"/>
<circle cx="893.5" cy="190.5" r="1" fill="#1a1a1a"/>
<ellipse cx="871.5" cy="174.8" rx="1.5" ry="1.2" transform="rotate(0 871.5 174.8)" fill="none" stroke="#1a1a1a" stroke-width="0.9"/>
<ellipse cx="878.8" cy="169.6" rx="1.5" ry="1.2" transform="rotate(0 878.8 169.6)" fill="none" stroke="#1a1a1a" stroke-width="0.9"/>
<ellipse cx="877.5" cy="197.8" rx="3.6" ry="3.2" transform="rotate(0 877.5 197.8)" fill="#fff" stroke="#1a1a1a" stroke-width="1.6"/>
<ellipse cx="877.5" cy="197.5" rx="1.8" ry="1.4" transform="rotate(0 877.5 197.5)" fill="none" stroke="#1a1a1a" stroke-width="1.0"/>
<line x1="843" y1="189.8" x2="854.5" y2="183.8" stroke="#1a1a1a" stroke-width="4.2" stroke-linecap="round"/>
<line x1="843" y1="189.8" x2="854.5" y2="183.8" stroke="#fff" stroke-width="2.2" stroke-linecap="round"/>
<line x1="939.5" y1="166.5" x2="949.5" y2="160.5" stroke="#1a1a1a" stroke-width="4.0" stroke-linecap="round"/>
<ellipse cx="955" cy="157.5" rx="3.6" ry="4.4" transform="rotate(40 955 157.5)" fill="#2a2a2a" stroke="#1a1a1a" stroke-width="2.2"/>
<ellipse cx="953" cy="158.8" rx="1.6" ry="2.8" transform="rotate(40 953 158.8)" fill="#fff" stroke="#1a1a1a" stroke-width="0.9"/>
<circle cx="905.25" cy="163.5" r="1.1" fill="#555"/><circle cx="922.25" cy="175.6" r="1.1" fill="#555"/>
<line x1="928.3" y1="188.5" x2="933.6" y2="184.6" stroke="#1a1a1a" stroke-width="5.6" stroke-linecap="round"/>
<line x1="853" y1="216" x2="858.3" y2="212" stroke="#1a1a1a" stroke-width="5.4" stroke-linecap="round"/>
<polygon points="823,226.6 835,219.5 843.6,223.5 842.6,230.6 833,235 824,228.6" fill="#fff" stroke="#1a1a1a" stroke-width="1.1" stroke-linejoin="round"/>
<path d="M823,226.6 L833,231.5 L843.6,223.5 M833,231.5 L833,235" fill="none" stroke="#1a1a1a" stroke-width="1.0" stroke-linejoin="round" stroke-linecap="round"/>
<circle cx="834.2" cy="224.6" r="3.6" fill="#2a2a2a"/><path d="M832.5,223.5 l3,2.5 M835.5,222.8 l-2.5,3.5" stroke="#999" stroke-width="0.7"/>
<ellipse cx="883.7" cy="216.6" rx="3.5" ry="2.4" transform="rotate(0 883.7 216.6)" fill="#333" stroke="#1a1a1a" stroke-width="1.3"/>
<line x1="883.7" y1="218.5" x2="883.7" y2="221.3" stroke="#1a1a1a" stroke-width="4.0" stroke-linecap="round"/>
<ellipse cx="896.5" cy="224" rx="3.3" ry="2.4" transform="rotate(0 896.5 224)" fill="#333" stroke="#1a1a1a" stroke-width="1.3"/>
<line x1="896.5" y1="226" x2="896.5" y2="229" stroke="#1a1a1a" stroke-width="4.0" stroke-linecap="round"/>
<polygon points="870.6,234 875.2,229 881.7,227.6 905.2,243.6 905.2,246.1 897.7,251.6 871.1,237" fill="#fff" stroke="#1a1a1a" stroke-width="1.1" stroke-linejoin="round"/>
<path d="M871,235.5 L897.7,249 L905.2,243.6 M897.7,249 L897.7,251.6" fill="none" stroke="#1a1a1a" stroke-width="1.0" stroke-linejoin="round" stroke-linecap="round"/>
<ellipse cx="877" cy="231.5" rx="2.6" ry="2.2" transform="rotate(20 877 231.5)" fill="none" stroke="#1a1a1a" stroke-width="1"/>
<ellipse cx="880.5" cy="230" rx="2.4" ry="2" transform="rotate(20 880.5 230)" fill="none" stroke="#1a1a1a" stroke-width="0.9"/>
<ellipse cx="884.2" cy="236.8" rx="2.1" ry="1.3" transform="rotate(28 884.2 236.8)" fill="none" stroke="#1a1a1a" stroke-width="1.1"/>
<ellipse cx="890.5" cy="240" rx="2.1" ry="1.3" transform="rotate(28 890.5 240)" fill="none" stroke="#1a1a1a" stroke-width="1.1"/>
<ellipse cx="896.2" cy="243.3" rx="2.1" ry="1.3" transform="rotate(28 896.2 243.3)" fill="none" stroke="#1a1a1a" stroke-width="1.1"/>
<polygon points="884.7,260 889.5,256 895.7,259 895.7,263.5 889,266.2 884.7,263.5" fill="#fff" stroke="#1a1a1a" stroke-width="1.1" stroke-linejoin="round"/>
<path d="M884.7,260 L889.5,262 L895.7,259 M889.5,262 L889.5,266.2" fill="none" stroke="#1a1a1a" stroke-width="1.0" stroke-linejoin="round" stroke-linecap="round"/>
<rect x="889" y="257" width="3" height="2.2" fill="#333"/>
<ellipse cx="538.8" cy="474" rx="2.4" ry="2.6" transform="rotate(0 538.8 474)" fill="#fff" stroke="#1a1a1a" stroke-width="2.2"/>
<ellipse cx="538.8" cy="474" rx="0.8" ry="0.9" transform="rotate(0 538.8 474)" fill="#888" stroke="#1a1a1a" stroke-width="0.6"/>
<line x1="547" y1="469.5" x2="554" y2="465.5" stroke="#1a1a1a" stroke-width="3.6" stroke-linecap="round"/>
<line x1="554" y1="465.5" x2="559.5" y2="462.3" stroke="#1a1a1a" stroke-width="4.2" stroke-linecap="round"/>
<line x1="554" y1="465.5" x2="559.5" y2="462.3" stroke="#fff" stroke-width="2.2" stroke-linecap="round"/>
<ellipse cx="560.2" cy="462" rx="2.0" ry="2.6" transform="rotate(35 560.2 462)" fill="#fff" stroke="#1a1a1a" stroke-width="1.8"/>
<circle cx="462" cy="515.8" r="1.3" fill="#1a1a1a"/>
<ellipse cx="468.8" cy="512" rx="2.3" ry="2.4" transform="rotate(0 468.8 512)" fill="#555" stroke="#1a1a1a" stroke-width="2.4"/>
<ellipse cx="476" cy="508.5" rx="2.1" ry="2.6" transform="rotate(-20 476 508.5)" fill="#fff" stroke="#1a1a1a" stroke-width="2.2"/>
<ellipse cx="476" cy="508.5" rx="0.8" ry="1" transform="rotate(0 476 508.5)" fill="#888" stroke="#1a1a1a" stroke-width="0.6"/>
<ellipse cx="487.5" cy="503.5" rx="1.6" ry="2.4" transform="rotate(20 487.5 503.5)" fill="none" stroke="#1a1a1a" stroke-width="0.9"/>
<path d="M474.5,450 L622.7,534.7 Q628,537.5 627,541 C631,546 635,552 640,554 L686.7,580 L714.7,599.3 L713.5,645 Q712,650 708.8,648.8 L652,597.3 Q646,600 634.7,601.3 Q626,600 625.3,598 C624,590 623.5,585 622.7,580 C620,570 612,560 600,553.3 L458.5,468 Q455,465 457,461 Q458,457 462,455.5 L466,452.5 Z" fill="#fff" stroke="#1a1a1a" stroke-width="1.0" stroke-linejoin="round" stroke-linecap="round"/>
<path d="M477,454 L612,530.5 M469,459.5 L610,539.5" stroke="#1a1a1a" stroke-width="2.6" fill="none"/>
<path d="M477,454 L612,530.5 M469,459.5 L610,539.5" stroke="#fff" stroke-width="0.7" fill="none" stroke-dasharray="2,1"/>
<path d="M612,530.5 Q624,536 621.3,543.5 Q617,545 610,539.5" fill="none" stroke="#1a1a1a" stroke-width="1.0" stroke-linejoin="round" stroke-linecap="round"/>
<path d="M462.5,455.5 L467,454 L471,457 L469,459.5" fill="none" stroke="#1a1a1a" stroke-width="1.0" stroke-linejoin="round" stroke-linecap="round"/>
<path d="M470,463 L513,486.5 Q516,484 518,488 L538,499 Q542,496 545,502 L569,515" fill="none" stroke="#1a1a1a" stroke-width="0.9" stroke-linejoin="round" stroke-linecap="round"/>
<polygon points="478,456.5 480.5,455 489,460 488,462.5 478.5,457.5" fill="#fff" stroke="#1a1a1a" stroke-width="1.1" stroke-linejoin="round"/>
<path d="M595.3,527.5 L609,535.5" fill="none" stroke="#1a1a1a" stroke-width="1.6" stroke-linejoin="round" stroke-linecap="round"/>
<polygon points="608,531 611.5,529.3 618.5,533.5 618.7,539.5 615,540 608.5,536" fill="#fff" stroke="#1a1a1a" stroke-width="1.0" stroke-linejoin="round"/>
<path d="M611.5,529.3 L612,535 L618.7,539.5 M612,535 L608.5,536" fill="none" stroke="#1a1a1a" stroke-width="1.0" stroke-linejoin="round" stroke-linecap="round"/>
<ellipse cx="501.5" cy="490" rx="1.6" ry="2.3" transform="rotate(20 501.5 490)" fill="none" stroke="#1a1a1a" stroke-width="0.9"/>
<path d="M640,554 C641,558 640,564 633.3,566" fill="none" stroke="#1a1a1a" stroke-width="1.0" stroke-linejoin="round" stroke-linecap="round"/>
<path d="M653.3,593.3 C658,600 664,605.3 670,607 C676,609.5 678,609 679,605 C680,598 681,590 682.7,585.3 Q684,581 686.7,580" fill="none" stroke="#1a1a1a" stroke-width="1.0" stroke-linejoin="round" stroke-linecap="round"/>
<path d="M714.7,599.3 C708,601 701,606 698.7,612 C696,620 700,632 705,642 Q707,647 708.8,648.8" fill="none" stroke="#1a1a1a" stroke-width="1.0" stroke-linejoin="round" stroke-linecap="round"/>
<ellipse cx="710.5" cy="641" rx="1.5" ry="2" transform="rotate(20 710.5 641)" fill="none" stroke="#1a1a1a" stroke-width="0.9"/>
<polygon points="551,577 553,572 559,571.5 584,586 585,592 578,599 572,600 560,592" fill="#fff" stroke="#1a1a1a" stroke-width="1.1" stroke-linejoin="round"/>
<path d="M553,574 L559,573 L583,587" fill="none" stroke="#1a1a1a" stroke-width="1.0" stroke-linejoin="round" stroke-linecap="round"/>
<path d="M562,580 L577,589" stroke="#1a1a1a" stroke-width="2.5"/>
<ellipse cx="556.5" cy="573.5" rx="2" ry="1.5" transform="rotate(0 556.5 573.5)" fill="none" stroke="#1a1a1a" stroke-width="1.5"/>
<polygon points="554,601.5 555,596 557,596 557.5,601.5" fill="#fff" stroke="#1a1a1a" stroke-width="1" stroke-linejoin="round"/>
<rect x="576.5" y="612" width="2.6" height="10" fill="#1a1a1a"/><rect x="575" y="610" width="5.5" height="2.5" fill="#1a1a1a"/>
<path d="M741.9,615.7 Q746,613 751.1,612.9 Q757,613 759.4,614.7 Q762,617 762.7,621.2 Q763,635 762.1,648.8 Q761.5,658 759.4,662.6 Q756,666 752.9,665.3 Q750,664 748.3,661.7 Q743,654 740,645.1 Q736.5,637 735.4,630.4 Q735,625 736.4,623 Q738.5,618 741.9,615.7 Z" fill="#fff" stroke="#1a1a1a" stroke-width="1.2" stroke-linejoin="round" stroke-linecap="round"/>
<path d="M741,617.5 Q737,622 737,629 Q738,640 743,650 Q747,658 751,662.5 Q749,650 748.5,640 Q746,628 745.6,621 Q745,617 748,615.5 Q744,615.5 741,617.5 Z" fill="#3a3a3a" stroke="#1a1a1a" stroke-width="0.8"/>
<circle cx="739.0" cy="621.0" r="0.75" fill="#bbb"/>
<circle cx="741.6" cy="621.5" r="0.75" fill="#bbb"/>
<circle cx="744.2" cy="622.0" r="0.75" fill="#bbb"/>
<circle cx="739.9" cy="625.4" r="0.75" fill="#bbb"/>
<circle cx="742.5" cy="625.9" r="0.75" fill="#bbb"/>
<circle cx="745.1" cy="626.4" r="0.75" fill="#bbb"/>
<circle cx="740.8" cy="629.8" r="0.75" fill="#bbb"/>
<circle cx="743.4" cy="630.3" r="0.75" fill="#bbb"/>
<circle cx="746.0" cy="630.8" r="0.75" fill="#bbb"/>
<circle cx="741.7" cy="634.2" r="0.75" fill="#bbb"/>
<circle cx="744.3" cy="634.7" r="0.75" fill="#bbb"/>
<circle cx="746.9" cy="635.2" r="0.75" fill="#bbb"/>
<circle cx="742.6" cy="638.6" r="0.75" fill="#bbb"/>
<circle cx="745.2" cy="639.1" r="0.75" fill="#bbb"/>
<circle cx="747.8" cy="639.6" r="0.75" fill="#bbb"/>
<circle cx="743.5" cy="643.0" r="0.75" fill="#bbb"/>
<circle cx="746.1" cy="643.5" r="0.75" fill="#bbb"/>
<circle cx="748.7" cy="644.0" r="0.75" fill="#bbb"/>
<circle cx="744.4" cy="647.4" r="0.75" fill="#bbb"/>
<circle cx="747.0" cy="647.9" r="0.75" fill="#bbb"/>
<circle cx="749.6" cy="648.4" r="0.75" fill="#bbb"/>
<circle cx="745.3" cy="651.8" r="0.75" fill="#bbb"/>
<circle cx="747.9" cy="652.3" r="0.75" fill="#bbb"/>
<circle cx="750.5" cy="652.8" r="0.75" fill="#bbb"/>
<circle cx="746.2" cy="656.2" r="0.75" fill="#bbb"/>
<circle cx="748.8" cy="656.7" r="0.75" fill="#bbb"/>
<circle cx="751.4" cy="657.2" r="0.75" fill="#bbb"/>
<path d="M752,617.5 Q756.5,618 757.5,619.3 Q759.5,624 759.4,630.4 Q759.5,642 758.4,652.5 Q757.5,657 754.8,659.8 Q752.5,660 751.1,656.1 Q749.5,648 749.2,639.6 Q748,630 747.5,623 Q748.5,618 752,617.5 Z" fill="none" stroke="#1a1a1a" stroke-width="1.0" stroke-linejoin="round" stroke-linecap="round"/>
<circle cx="756" cy="624" r="0.9" fill="none" stroke="#1a1a1a" stroke-width="0.8"/>
<line x1="774" y1="634" x2="783" y2="639.5" stroke="#1a1a1a" stroke-width="3.0" stroke-linecap="round"/>
<ellipse cx="785" cy="641" rx="1.8" ry="1.5" transform="rotate(30 785 641)" fill="#1a1a1a" stroke="#1a1a1a" stroke-width="1.5"/>
<line x1="769.5" y1="665.5" x2="778.5" y2="671" stroke="#1a1a1a" stroke-width="3.0" stroke-linecap="round"/>
<ellipse cx="780.5" cy="672.5" rx="1.8" ry="1.5" transform="rotate(30 780.5 672.5)" fill="#1a1a1a" stroke="#1a1a1a" stroke-width="1.5"/>
<polygon points="175,350 179.2,345.8 182.5,344.2 185.8,346.7 185,350 190.8,350.8 227.5,378.3 222.5,380.8 187.5,370.8 183.3,369.2 175.8,359.2" fill="#fff" stroke="#1a1a1a" stroke-width="1.1" stroke-linejoin="round"/>
<path d="M185,350 L186.5,353.5 L190.8,350.8 M186.5,353.5 L224,379.5 M179.2,345.8 L182.5,348.5 L185,350" fill="none" stroke="#1a1a1a" stroke-width="1.0" stroke-linejoin="round" stroke-linecap="round"/>
<ellipse cx="188.5" cy="362.3" rx="2.4" ry="3.1" transform="rotate(-10 188.5 362.3)" fill="none" stroke="#1a1a1a" stroke-width="1.1"/>
<ellipse cx="184" cy="368.3" rx="1.6" ry="1.3" transform="rotate(0 184 368.3)" fill="none" stroke="#1a1a1a" stroke-width="1.0"/>
<ellipse cx="186.5" cy="402.5" rx="4" ry="2.3" transform="rotate(20 186.5 402.5)" fill="none" stroke="#1a1a1a" stroke-width="1.6"/>
<ellipse cx="216.5" cy="418.5" rx="4" ry="2.3" transform="rotate(20 216.5 418.5)" fill="none" stroke="#1a1a1a" stroke-width="1.6"/>
<line x1="190.5" y1="404.5" x2="213" y2="416.5" stroke="#1a1a1a" stroke-width="7.5" stroke-linecap="butt"/>
<line x1="191" y1="404.5" x2="212" y2="416" stroke="#555" stroke-width="3" stroke-dasharray="0.8,1.2"/>
<line x1="136" y1="392" x2="149.5" y2="384.5" stroke="#1a1a1a" stroke-width="8.2" stroke-linecap="round"/>
<line x1="136" y1="392" x2="149.5" y2="384.5" stroke="#fff" stroke-width="6.2" stroke-linecap="round"/>
<ellipse cx="136" cy="392" rx="1.98" ry="3.30" transform="rotate(-29.1 136 392)" fill="none" stroke="#1a1a1a" stroke-width="1.0"/>
<polygon points="213.9,434.4 218.9,431.8 221.3,432.7 221.9,428.8 226,426.2 230.1,428.8 233.4,436.5 234,444.8 231.9,450.7 228.9,457.7 222.5,460.7 221.3,457.7 215.4,444.8 213.6,439.5" fill="#fff" stroke="#1a1a1a" stroke-width="1.1" stroke-linejoin="round"/>
<path d="M221.9,428.8 C224,431 226.5,434 227,438 C228,443 229,448 227.5,453 L225.5,460" fill="none" stroke="#1a1a1a" stroke-width="1.0" stroke-linejoin="round" stroke-linecap="round"/>
<path d="M213.9,434.4 L216,436 L221.3,433.5 M216,436 L216,441 L222,443.5 M219.5,434.5 L223.5,437" fill="none" stroke="#1a1a1a" stroke-width="1.0" stroke-linejoin="round" stroke-linecap="round"/>
<ellipse cx="221.5" cy="442.3" rx="1.4" ry="1.9" transform="rotate(-20 221.5 442.3)" fill="none" stroke="#1a1a1a" stroke-width="1.0"/>
<path d="M215.5,444 L218,441 L220,450 Z" fill="#333"/>
<line x1="184.5" y1="462" x2="203.5" y2="451.5" stroke="#1a1a1a" stroke-width="5.8" stroke-linecap="round"/>
<line x1="184.5" y1="462" x2="203.5" y2="451.5" stroke="#fff" stroke-width="3.8" stroke-linecap="round"/>
<ellipse cx="184.5" cy="462" rx="1.32" ry="2.10" transform="rotate(-28.9 184.5 462)" fill="none" stroke="#1a1a1a" stroke-width="1.0"/>
<polygon points="178.3,498.3 186.7,493.3 201.7,500.8 202.5,485 210,480.8 237.5,495 238.3,558.3 228.3,561.7 207.5,550 206.7,541.7 201.7,538.3 200,547.5 186.7,540 179.2,516.7" fill="#fff" stroke="#1a1a1a" stroke-width="1.1" stroke-linejoin="round"/>
<path d="M178.3,498.3 L201.7,508 L202.5,485 M202.5,485 L228,498 L228.3,561.7 M228,498 L237.5,495" fill="none" stroke="#1a1a1a" stroke-width="1.0" stroke-linejoin="round" stroke-linecap="round"/>
<path d="M232.5,497 L232.5,560" fill="none" stroke="#1a1a1a" stroke-width="1.0" stroke-linejoin="round" stroke-linecap="round"/>
<ellipse cx="186" cy="506" rx="2.2" ry="2.6" transform="rotate(0 186 506)" fill="none" stroke="#1a1a1a" stroke-width="1"/>
<ellipse cx="208" cy="493" rx="2.2" ry="2.6" transform="rotate(0 208 493)" fill="none" stroke="#1a1a1a" stroke-width="1"/>
<ellipse cx="225" cy="505" rx="2.2" ry="2.6" transform="rotate(0 225 505)" fill="none" stroke="#1a1a1a" stroke-width="1"/>
<ellipse cx="219" cy="544" rx="2.2" ry="2.6" transform="rotate(0 219 544)" fill="none" stroke="#1a1a1a" stroke-width="1"/>
<path d="M193,521 L214,534 L213,537 L192,524 Z" fill="none" stroke="#1a1a1a" stroke-width="1.0" stroke-linejoin="round" stroke-linecap="round"/>
<ellipse cx="182" cy="513" rx="1.2" ry="1.4" transform="rotate(0 182 513)" fill="none" stroke="#1a1a1a" stroke-width="0.8"/>
<ellipse cx="189" cy="535" rx="1.2" ry="1.4" transform="rotate(0 189 535)" fill="none" stroke="#1a1a1a" stroke-width="0.8"/>
<ellipse cx="197" cy="543" rx="1.2" ry="1.4" transform="rotate(0 197 543)" fill="none" stroke="#1a1a1a" stroke-width="0.8"/>
<ellipse cx="209" cy="538" rx="1.2" ry="1.4" transform="rotate(0 209 538)" fill="none" stroke="#1a1a1a" stroke-width="0.8"/>
<ellipse cx="205" cy="544" rx="1.2" ry="1.4" transform="rotate(0 205 544)" fill="none" stroke="#1a1a1a" stroke-width="0.8"/>
<ellipse cx="219" cy="533" rx="1.2" ry="1.4" transform="rotate(0 219 533)" fill="none" stroke="#1a1a1a" stroke-width="0.8"/>
<ellipse cx="224" cy="553" rx="1.2" ry="1.4" transform="rotate(0 224 553)" fill="none" stroke="#1a1a1a" stroke-width="0.8"/>
<ellipse cx="270" cy="499" rx="2.8" ry="3.6" transform="rotate(-30 270 499)" fill="none" stroke="#1a1a1a" stroke-width="1.5"/>
<ellipse cx="270" cy="499" rx="1" ry="1.6" transform="rotate(-30 270 499)" fill="none" stroke="#1a1a1a" stroke-width="0.9"/>
<line x1="159.6" y1="560.5" x2="165.8" y2="557" stroke="#1a1a1a" stroke-width="9.8" stroke-linecap="round"/>
<line x1="159.6" y1="560.5" x2="165.8" y2="557" stroke="#fff" stroke-width="7.800000000000001" stroke-linecap="round"/>
<ellipse cx="159.6" cy="560.5" rx="2.6" ry="4.2" transform="rotate(30 159.6 560.5)" fill="#fff" stroke="#1a1a1a" stroke-width="1.6"/>
<ellipse cx="159.8" cy="560.5" rx="1.3" ry="2.6" transform="rotate(30 159.8 560.5)" fill="none" stroke="#1a1a1a" stroke-width="1.0"/>
<line x1="134" y1="576.5" x2="147" y2="569.5" stroke="#1a1a1a" stroke-width="6.0" stroke-linecap="round"/>
<line x1="134" y1="576.5" x2="147" y2="569.5" stroke="#fff" stroke-width="4.0" stroke-linecap="round"/>
<ellipse cx="132" cy="577.6" rx="3.2" ry="4.0" transform="rotate(30 132 577.6)" fill="#fff" stroke="#1a1a1a" stroke-width="1.2"/>
<line x1="143.5" y1="569" x2="146.5" y2="574.5" stroke="#1a1a1a" stroke-width="1.1"/>
<ellipse cx="147" cy="569.5" rx="1.2" ry="2.2" transform="rotate(30 147 569.5)" fill="none" stroke="#1a1a1a" stroke-width="1"/>
<path d="M191.5,579 C193,578 194,578.5 195,579.5 L207,589.5 C209,591 211,591 213,592 L216,593 L224.5,598.5 C226,600 226,602 225,603 L223,604 L216,601 C213,602 209,601.5 207.5,599 L205,595 L197,589 L190.5,582 C190,580.5 190.5,579.5 191.5,579 Z" fill="#fff" stroke="#1a1a1a" stroke-width="1.1" stroke-linejoin="round" stroke-linecap="round"/>
<ellipse cx="211.7" cy="596.1" rx="1.8" ry="1.8" transform="rotate(0 211.7 596.1)" fill="none" stroke="#1a1a1a" stroke-width="1"/>
<path d="M199,588 L206,594" stroke="#444" stroke-width="2.2"/>
<path d="M216,593 C218,593.5 219,597 218.5,600" fill="none" stroke="#1a1a1a" stroke-width="1.0" stroke-linejoin="round" stroke-linecap="round"/>
<line x1="173" y1="619" x2="193" y2="608" stroke="#1a1a1a" stroke-width="5.8" stroke-linecap="round"/>
<line x1="173" y1="619" x2="193" y2="608" stroke="#fff" stroke-width="3.8" stroke-linecap="round"/>
<ellipse cx="173" cy="619" rx="1.32" ry="2.10" transform="rotate(-28.8 173 619)" fill="none" stroke="#1a1a1a" stroke-width="1.0"/>
<rect x="214.5" y="625.5" width="6" height="13" rx="2" fill="#1a1a1a"/>
<path d="M215,628 l5,0 M215,631 l5,0 M215,634 l5,0" stroke="#666" stroke-width="0.6"/>
<line x1="245.5" y1="645" x2="265" y2="634.7" stroke="#1a1a1a" stroke-width="5.8" stroke-linecap="round"/>
<line x1="245.5" y1="645" x2="265" y2="634.7" stroke="#fff" stroke-width="3.8" stroke-linecap="round"/>
<ellipse cx="245.5" cy="645" rx="1.32" ry="2.10" transform="rotate(-27.8 245.5 645)" fill="none" stroke="#1a1a1a" stroke-width="1.0"/>
<line x1="242" y1="655.3" x2="246.5" y2="652.8" stroke="#1a1a1a" stroke-width="5.6" stroke-linecap="round"/>
<line x1="242" y1="655.3" x2="246.5" y2="652.8" stroke="#fff" stroke-width="3.5999999999999996" stroke-linecap="round"/>
<ellipse cx="242" cy="655.3" rx="1.26" ry="2.00" transform="rotate(-29.1 242 655.3)" fill="none" stroke="#1a1a1a" stroke-width="1.0"/>
<polygon points="216.2,653.2 219.5,650.5 226,649.4 229.8,647.7 233.6,649.4 235.7,654.3 239,657.5 239.5,662.4 234.1,665.1 216.2,655.3" fill="#fff" stroke="#1a1a1a" stroke-width="1.1" stroke-linejoin="round"/>
<path d="M216.2,653.2 L232.5,660.5 L239,657.5 M232.5,660.5 L232.5,665 M226,649.4 C229,651 231,653 232,656 L235.7,654.3" fill="none" stroke="#1a1a1a" stroke-width="1.0" stroke-linejoin="round" stroke-linecap="round"/>
<ellipse cx="221.2" cy="651.3" rx="1.4" ry="1.2" transform="rotate(0 221.2 651.3)" fill="none" stroke="#1a1a1a" stroke-width="1.0"/>
<ellipse cx="226" cy="655.6" rx="1.7" ry="2.2" transform="rotate(-15 226 655.6)" fill="none" stroke="#1a1a1a" stroke-width="1.0"/>
<ellipse cx="228.6" cy="658.4" rx="1.6" ry="2.1" transform="rotate(-15 228.6 658.4)" fill="none" stroke="#1a1a1a" stroke-width="1.0"/>
<rect x="230.8" y="676" width="5.8" height="8.5" rx="2" fill="#1a1a1a"/>
<path d="M231.5,678.5 l4.4,0 M231.5,680.8 l4.4,0 M231.5,683 l4.4,0" stroke="#777" stroke-width="0.6"/>
<polygon points="188.5,673.8 189.8,670.9 193.6,668.2 201.1,665 213,668.5 215.3,669.6 217.6,672.4 214.5,675.9 210.3,677.6 219.5,688.5 208.6,686.8 203.6,681.8 191,677.2" fill="#fff" stroke="#1a1a1a" stroke-width="1.1" stroke-linejoin="round"/>
<path d="M191,671.5 L196,674.5 L197.5,680 M196,674.5 L203.5,669 L213,673.5 L214.5,675.9 M201.1,665 L204,668.5 M203.5,669 L205,681.5" fill="none" stroke="#1a1a1a" stroke-width="1.0" stroke-linejoin="round" stroke-linecap="round"/>
<ellipse cx="197.6" cy="672.8" rx="1.3" ry="1.9" transform="rotate(0 197.6 672.8)" fill="none" stroke="#1a1a1a" stroke-width="1.0"/>
<ellipse cx="205.5" cy="671.8" rx="1.5" ry="1.6" transform="rotate(0 205.5 671.8)" fill="none" stroke="#1a1a1a" stroke-width="1.0"/>
<polygon points="202,677 206.5,675.5 208,679.5 203.5,681" fill="#fff" stroke="#1a1a1a" stroke-width="1.0" stroke-linejoin="round"/>
<line x1="213.7" y1="673.5" x2="217.6" y2="671.2" stroke="#1a1a1a" stroke-width="4.6" stroke-linecap="round"/>
<line x1="213.7" y1="673.5" x2="217.6" y2="671.2" stroke="#fff" stroke-width="2.6" stroke-linecap="round"/>
<ellipse cx="213.7" cy="673.5" rx="0.99" ry="1.50" transform="rotate(-30.5 213.7 673.5)" fill="none" stroke="#1a1a1a" stroke-width="1.0"/>
<path d="M208.6,688.5 L221.2,687.6 C227,693 233,702 234.2,710.3 C235,716 233,720 232.9,720.3 C230,724 226,726 223.7,726.2 L222,725.3 C226,718 227,711 225.4,706.9 C223,700 216,692 208.6,688.5 Z" fill="#fff" stroke="#1a1a1a" stroke-width="1.1" stroke-linejoin="round" stroke-linecap="round"/>
<path d="M210,690 C218,695 224,702 227,710 C229,716 226,722 223.7,725" fill="none" stroke="#1a1a1a" stroke-width="1.0" stroke-linejoin="round" stroke-linecap="round"/>
<path d="M210.3,677.6 L217,687.5 M214.5,675.9 L221,687.5" fill="none" stroke="#1a1a1a" stroke-width="1.0" stroke-linejoin="round" stroke-linecap="round"/>
<line x1="157" y1="698" x2="175" y2="687.5" stroke="#1a1a1a" stroke-width="5.8" stroke-linecap="round"/>
<line x1="157" y1="698" x2="175" y2="687.5" stroke="#fff" stroke-width="3.8" stroke-linecap="round"/>
<ellipse cx="157" cy="698" rx="1.32" ry="2.10" transform="rotate(-30.3 157 698)" fill="none" stroke="#1a1a1a" stroke-width="1.0"/>
<line x1="191" y1="688" x2="196" y2="684.8" stroke="#1a1a1a" stroke-width="6.2" stroke-linecap="round"/>
<line x1="191" y1="688" x2="196" y2="684.8" stroke="#fff" stroke-width="4.2" stroke-linecap="round"/>
<ellipse cx="191" cy="688" rx="1.43" ry="2.30" transform="rotate(-32.6 191 688)" fill="none" stroke="#1a1a1a" stroke-width="1.0"/>
<rect x="201.8" y="702.5" width="4.2" height="11.5" rx="1.8" fill="#1a1a1a"/>
<rect x="206.8" y="705.5" width="4.2" height="11.5" rx="1.8" fill="#1a1a1a"/>
<line x1="378" y1="640.5" x2="396" y2="630.5" stroke="#1a1a1a" stroke-width="5.8" stroke-linecap="round"/>
<line x1="378" y1="640.5" x2="396" y2="630.5" stroke="#fff" stroke-width="3.8" stroke-linecap="round"/>
<ellipse cx="376.5" cy="641" rx="3" ry="4.2" transform="rotate(30 376.5 641)" fill="#fff" stroke="#1a1a1a" stroke-width="1.2"/>
<line x1="391" y1="629" x2="394" y2="636" stroke="#1a1a1a" stroke-width="1.2"/>
<path d="M418,631.5 C418,634 417,636 414,638 C411,640 414,642 417.5,645 L417.5,660 L419,667 M406,654.5 C410,655 414,659 419,667" fill="none" stroke="#1a1a1a" stroke-width="1.4" stroke-linejoin="round" stroke-linecap="round"/>
<circle cx="419.2" cy="667" r="3.4" fill="#1a1a1a"/>
<path d="M367,680 C366,677 369,676 371,677 L376,680 L374,692 L375,700 L376,707 L372,712 L369,706 L368,695 Z" fill="#fff" stroke="#1a1a1a" stroke-width="1.1" stroke-linejoin="round" stroke-linecap="round"/>
<circle cx="379.5" cy="682" r="4.2" fill="#1a1a1a"/>
<ellipse cx="377" cy="683" rx="2.4" ry="3.5" transform="rotate(0 377 683)" fill="#fff" stroke="#1a1a1a" stroke-width="1"/>
<ellipse cx="371" cy="691" rx="1.8" ry="2.2" transform="rotate(0 371 691)" fill="none" stroke="#1a1a1a" stroke-width="0.9"/>
<polygon points="369,704 375,703 376.5,710 372,712.5" fill="#fff" stroke="#1a1a1a" stroke-width="1" stroke-linejoin="round"/>
<ellipse cx="392.6" cy="721.7" rx="2.6" ry="3.1" transform="rotate(-30 392.6 721.7)" fill="none" stroke="#1a1a1a" stroke-width="2.3"/>
<polygon points="330.8,715.8 334.2,715 335,718.3 396.7,751.7 398.3,752.5 397.5,755 390.8,758.3 370.8,750 361.7,745.8 345,735.8 339.2,731.7 336.7,729.2 333.3,728.3 331.7,723.3" fill="#fff" stroke="#1a1a1a" stroke-width="1.2" stroke-linejoin="round"/>
<path d="M335,718.3 L333,720.5 L396.5,755 M333,720.5 L333.5,727" fill="none" stroke="#1a1a1a" stroke-width="1.0" stroke-linejoin="round" stroke-linecap="round"/>
<path d="M345,727.5 L345,735.8 M370.8,739.2 L370.8,750" fill="none" stroke="#1a1a1a" stroke-width="1.0" stroke-linejoin="round" stroke-linecap="round"/>
<polygon points="346.7,728.8 348.5,728 353.3,730.8 353,733.3 351,733.8 346.5,731.2" fill="#fff" stroke="#1a1a1a" stroke-width="1.0" stroke-linejoin="round"/>
<path d="M359,738.5 L368,743" stroke="#1a1a1a" stroke-width="2.6"/>
<path d="M361.5,726.2 Q361.5,723.5 364,723.6 L389,738.4 Q391.8,740.5 390.5,743 Q389,745 386.5,744 L362,729.8 Q361,728.5 361.5,726.2 Z" fill="none" stroke="#1a1a1a" stroke-width="1.3" stroke-linejoin="round" stroke-linecap="round"/>
<path d="M364.5,726.5 Q365,725 367,726 L370,727.8 Q371.5,729.5 370.5,731.5 Q369.5,732.8 368,731.8 L365,730 Q364,728.5 364.5,726.5 Z" fill="none" stroke="#1a1a1a" stroke-width="1.1" stroke-linejoin="round" stroke-linecap="round"/>
<path d="M377,736.5 L387,742" stroke="#1a1a1a" stroke-width="3.2" stroke-linecap="round"/>
<path d="M377.6,737.2 L386.4,742" stroke="#fff" stroke-width="0.9"/>
<rect x="360" y="745" width="3.3" height="2.8" fill="#1a1a1a"/><rect x="374.2" y="752.6" width="3.3" height="3" fill="#1a1a1a"/>
<ellipse cx="361.3" cy="758" rx="5.8" ry="2.8" transform="rotate(18 361.3 758)" fill="#fff" stroke="#1a1a1a" stroke-width="1.8"/>
<path d="M357.5,756.3 l1.5,3.2 M360,756.6 l1.5,3.3 M362.5,757.2 l1.5,3.2 M365,758 l1.2,2.6" stroke="#1a1a1a" stroke-width="1.1"/>
<path d="M333,748 C333,746 336,746 337,748 L338,755 L344,764 C346,768 344,771 341,770 L338,766 L334,769 C331,768 330,765 332,760 Z" fill="#fff" stroke="#1a1a1a" stroke-width="1.1" stroke-linejoin="round" stroke-linecap="round"/>
<ellipse cx="335" cy="760" rx="1.3" ry="1.3" transform="rotate(0 335 760)" fill="none" stroke="#1a1a1a" stroke-width="0.9"/>
<line x1="313.5" y1="765.5" x2="294" y2="776" stroke="#1a1a1a" stroke-width="5.6" stroke-linecap="round"/>
<line x1="313.5" y1="765.5" x2="294" y2="776" stroke="#fff" stroke-width="3.5999999999999996" stroke-linecap="round"/>
<ellipse cx="293.5" cy="776.5" rx="3.0" ry="4.0" transform="rotate(30 293.5 776.5)" fill="#fff" stroke="#1a1a1a" stroke-width="1.3"/>
<ellipse cx="313" cy="766" rx="1.6" ry="2.3" transform="rotate(30 313 766)" fill="none" stroke="#1a1a1a" stroke-width="1"/></g>
<g fill="none" stroke="#1c1c1c" stroke-width="1.0" stroke-linecap="round" stroke-linejoin="round">
<path d="M0.4,1.3 C1,0.4 2,0 3,0 C4.6,0 5.6,1 5.6,2.5 C5.6,4 4.4,4.8 2.5,4.8 C4.8,4.8 6,5.8 6,7.4 C6,9 4.7,10 3,10 C1.8,10 0.8,9.6 0,8.8" transform="translate(281.10,13.70) scale(1.033,0.860)" vector-effect="non-scaling-stroke"/>
<path d="M3,0 C5,0 6,1.6 6,3.6 L6,6.4 C6,8.4 5,10 3,10 C1,10 0,8.4 0,6.4 L0,3.6 C0,1.6 1,0 3,0 Z" transform="translate(289.70,13.70) scale(0.767,0.860)" vector-effect="non-scaling-stroke"/>
<path d="M0.2,2.6 C0.6,0.9 1.7,0 3.1,0 C4.9,0 6,1.1 6,2.8 C6,4.3 5,5.3 3.3,6.5 C1.5,7.7 0.1,8.7 0.1,10 L6,10" transform="translate(296.70,13.70) scale(1.033,0.860)" vector-effect="non-scaling-stroke"/>
<path d="M0.4,1.3 C1,0.4 2,0 3,0 C4.6,0 5.6,1 5.6,2.5 C5.6,4 4.4,4.8 2.5,4.8 C4.8,4.8 6,5.8 6,7.4 C6,9 4.7,10 3,10 C1.8,10 0.8,9.6 0,8.8" transform="translate(311.60,35.70) scale(1.033,0.860)" vector-effect="non-scaling-stroke"/>
<path d="M0,0 L6,0 L2,10" transform="translate(320.20,35.70) scale(1.033,0.860)" vector-effect="non-scaling-stroke"/>
<path d="M3,0 C5,0 6,1.6 6,3.6 L6,6.4 C6,8.4 5,10 3,10 C1,10 0,8.4 0,6.4 L0,3.6 C0,1.6 1,0 3,0 Z" transform="translate(328.80,35.70) scale(0.767,0.860)" vector-effect="non-scaling-stroke"/>
<path d="M4.6,10 L4.6,0 L0,7.1 L6.2,7.1" transform="translate(345.10,56.20) scale(1.033,0.860)" vector-effect="non-scaling-stroke"/>
<path d="M5.6,0 L1,0 L0.5,4.5 C1.3,3.9 2.2,3.7 3,3.7 C4.9,3.7 6,4.9 6,6.8 C6,8.8 4.7,10 3,10 C1.8,10 0.8,9.6 0,8.8" transform="translate(353.70,56.20) scale(1.033,0.860)" vector-effect="non-scaling-stroke"/>
<path d="M3,0 C5,0 6,1.6 6,3.6 L6,6.4 C6,8.4 5,10 3,10 C1,10 0,8.4 0,6.4 L0,3.6 C0,1.6 1,0 3,0 Z" transform="translate(362.30,56.20) scale(0.767,0.860)" vector-effect="non-scaling-stroke"/>
<path d="M4.6,10 L4.6,0 L0,7.1 L6.2,7.1" transform="translate(400.05,90.70) scale(1.033,0.860)" vector-effect="non-scaling-stroke"/>
<path d="M5.6,0 L1,0 L0.5,4.5 C1.3,3.9 2.2,3.7 3,3.7 C4.9,3.7 6,4.9 6,6.8 C6,8.8 4.7,10 3,10 C1.8,10 0.8,9.6 0,8.8" transform="translate(408.65,90.70) scale(1.033,0.860)" vector-effect="non-scaling-stroke"/>
<path d="M4.6,10 L4.6,0 L0,7.1 L6.2,7.1" transform="translate(417.25,90.70) scale(1.033,0.860)" vector-effect="non-scaling-stroke"/>
<path d="M4.6,10 L4.6,0 L0,7.1 L6.2,7.1" transform="translate(450.30,120.70) scale(1.033,0.860)" vector-effect="non-scaling-stroke"/>
<path d="M5.6,0 L1,0 L0.5,4.5 C1.3,3.9 2.2,3.7 3,3.7 C4.9,3.7 6,4.9 6,6.8 C6,8.8 4.7,10 3,10 C1.8,10 0.8,9.6 0,8.8" transform="translate(458.90,120.70) scale(1.033,0.860)" vector-effect="non-scaling-stroke"/>
<path d="M5.4,1 C4.8,0.3 4,0 3.2,0 C1.2,0 0,2.2 0,5.5 C0,8.4 1.2,10 3,10 C4.8,10 6,8.7 6,6.8 C6,4.9 4.8,3.8 3.1,3.8 C1.6,3.8 0.4,4.9 0,6.2" transform="translate(467.50,120.70) scale(1.033,0.860)" vector-effect="non-scaling-stroke"/>
<path d="M4.6,10 L4.6,0 L0,7.1 L6.2,7.1" transform="translate(504.80,154.20) scale(1.033,0.860)" vector-effect="non-scaling-stroke"/>
<path d="M5.6,0 L1,0 L0.5,4.5 C1.3,3.9 2.2,3.7 3,3.7 C4.9,3.7 6,4.9 6,6.8 C6,8.8 4.7,10 3,10 C1.8,10 0.8,9.6 0,8.8" transform="translate(513.40,154.20) scale(1.033,0.860)" vector-effect="non-scaling-stroke"/>
<path d="M0.6,9 C1.2,9.7 2,10 2.8,10 C4.8,10 6,7.8 6,4.5 C6,1.6 4.8,0 3,0 C1.2,0 0,1.3 0,3.2 C0,5.1 1.2,6.2 2.9,6.2 C4.4,6.2 5.6,5.1 6,3.8" transform="translate(522.00,154.20) scale(1.033,0.860)" vector-effect="non-scaling-stroke"/>
<path d="M4.6,10 L4.6,0 L0,7.1 L6.2,7.1" transform="translate(553.30,183.20) scale(1.033,0.860)" vector-effect="non-scaling-stroke"/>
<path d="M5.4,1 C4.8,0.3 4,0 3.2,0 C1.2,0 0,2.2 0,5.5 C0,8.4 1.2,10 3,10 C4.8,10 6,8.7 6,6.8 C6,4.9 4.8,3.8 3.1,3.8 C1.6,3.8 0.4,4.9 0,6.2" transform="translate(561.90,183.20) scale(1.033,0.860)" vector-effect="non-scaling-stroke"/>
<path d="M0.2,2.6 C0.6,0.9 1.7,0 3.1,0 C4.9,0 6,1.1 6,2.8 C6,4.3 5,5.3 3.3,6.5 C1.5,7.7 0.1,8.7 0.1,10 L6,10" transform="translate(570.50,183.20) scale(1.033,0.860)" vector-effect="non-scaling-stroke"/>
<path d="M0.4,1.3 C1,0.4 2,0 3,0 C4.6,0 5.6,1 5.6,2.5 C5.6,4 4.4,4.8 2.5,4.8 C4.8,4.8 6,5.8 6,7.4 C6,9 4.7,10 3,10 C1.8,10 0.8,9.6 0,8.8" transform="translate(150.25,141.70) scale(1.033,0.860)" vector-effect="non-scaling-stroke"/>
<path d="M0.3,2.3 L3.1,0 L3.1,10 M0.2,10 L6,10" transform="translate(158.85,141.70) scale(0.717,0.860)" vector-effect="non-scaling-stroke"/>
<path d="M0,0 L6,0 L2,10" transform="translate(165.55,141.70) scale(1.033,0.860)" vector-effect="non-scaling-stroke"/>
<path d="M4.6,10 L4.6,0 L0,7.1 L6.2,7.1" transform="translate(193.80,173.20) scale(1.033,0.860)" vector-effect="non-scaling-stroke"/>
<path d="M5.6,0 L1,0 L0.5,4.5 C1.3,3.9 2.2,3.7 3,3.7 C4.9,3.7 6,4.9 6,6.8 C6,8.8 4.7,10 3,10 C1.8,10 0.8,9.6 0,8.8" transform="translate(202.40,173.20) scale(1.033,0.860)" vector-effect="non-scaling-stroke"/>
<path d="M0.4,1.3 C1,0.4 2,0 3,0 C4.6,0 5.6,1 5.6,2.5 C5.6,4 4.4,4.8 2.5,4.8 C4.8,4.8 6,5.8 6,7.4 C6,9 4.7,10 3,10 C1.8,10 0.8,9.6 0,8.8" transform="translate(211.00,173.20) scale(1.033,0.860)" vector-effect="non-scaling-stroke"/>
<path d="M5.6,0 L1,0 L0.5,4.5 C1.3,3.9 2.2,3.7 3,3.7 C4.9,3.7 6,4.9 6,6.8 C6,8.8 4.7,10 3,10 C1.8,10 0.8,9.6 0,8.8" transform="translate(230.30,194.70) scale(1.033,0.860)" vector-effect="non-scaling-stroke"/>
<path d="M0.2,2.6 C0.6,0.9 1.7,0 3.1,0 C4.9,0 6,1.1 6,2.8 C6,4.3 5,5.3 3.3,6.5 C1.5,7.7 0.1,8.7 0.1,10 L6,10" transform="translate(238.90,194.70) scale(1.033,0.860)" vector-effect="non-scaling-stroke"/>
<path d="M0.6,9 C1.2,9.7 2,10 2.8,10 C4.8,10 6,7.8 6,4.5 C6,1.6 4.8,0 3,0 C1.2,0 0,1.3 0,3.2 C0,5.1 1.2,6.2 2.9,6.2 C4.4,6.2 5.6,5.1 6,3.8" transform="translate(247.50,194.70) scale(1.033,0.860)" vector-effect="non-scaling-stroke"/>
<path d="M5.6,0 L1,0 L0.5,4.5 C1.3,3.9 2.2,3.7 3,3.7 C4.9,3.7 6,4.9 6,6.8 C6,8.8 4.7,10 3,10 C1.8,10 0.8,9.6 0,8.8" transform="translate(323.75,251.70) scale(1.033,0.860)" vector-effect="non-scaling-stroke"/>
<path d="M0.3,2.3 L3.1,0 L3.1,10 M0.2,10 L6,10" transform="translate(332.35,251.70) scale(0.717,0.860)" vector-effect="non-scaling-stroke"/>
<path d="M5.4,1 C4.8,0.3 4,0 3.2,0 C1.2,0 0,2.2 0,5.5 C0,8.4 1.2,10 3,10 C4.8,10 6,8.7 6,6.8 C6,4.9 4.8,3.8 3.1,3.8 C1.6,3.8 0.4,4.9 0,6.2" transform="translate(339.05,251.70) scale(1.033,0.860)" vector-effect="non-scaling-stroke"/>
<path d="M5.6,0 L1,0 L0.5,4.5 C1.3,3.9 2.2,3.7 3,3.7 C4.9,3.7 6,4.9 6,6.8 C6,8.8 4.7,10 3,10 C1.8,10 0.8,9.6 0,8.8" transform="translate(378.25,286.70) scale(1.033,0.860)" vector-effect="non-scaling-stroke"/>
<path d="M5.6,0 L1,0 L0.5,4.5 C1.3,3.9 2.2,3.7 3,3.7 C4.9,3.7 6,4.9 6,6.8 C6,8.8 4.7,10 3,10 C1.8,10 0.8,9.6 0,8.8" transform="translate(386.85,286.70) scale(1.033,0.860)" vector-effect="non-scaling-stroke"/>
<path d="M0.3,2.3 L3.1,0 L3.1,10 M0.2,10 L6,10" transform="translate(395.45,286.70) scale(0.717,0.860)" vector-effect="non-scaling-stroke"/>
<path d="M5.6,0 L1,0 L0.5,4.5 C1.3,3.9 2.2,3.7 3,3.7 C4.9,3.7 6,4.9 6,6.8 C6,8.8 4.7,10 3,10 C1.8,10 0.8,9.6 0,8.8" transform="translate(406.25,302.70) scale(1.033,0.860)" vector-effect="non-scaling-stroke"/>
<path d="M0.3,2.3 L3.1,0 L3.1,10 M0.2,10 L6,10" transform="translate(414.85,302.70) scale(0.717,0.860)" vector-effect="non-scaling-stroke"/>
<path d="M4.6,10 L4.6,0 L0,7.1 L6.2,7.1" transform="translate(421.55,302.70) scale(1.033,0.860)" vector-effect="non-scaling-stroke"/>
<path d="M5.6,0 L1,0 L0.5,4.5 C1.3,3.9 2.2,3.7 3,3.7 C4.9,3.7 6,4.9 6,6.8 C6,8.8 4.7,10 3,10 C1.8,10 0.8,9.6 0,8.8" transform="translate(437.20,319.70) scale(1.033,0.860)" vector-effect="non-scaling-stroke"/>
<path d="M0.3,2.3 L3.1,0 L3.1,10 M0.2,10 L6,10" transform="translate(445.80,319.70) scale(0.717,0.860)" vector-effect="non-scaling-stroke"/>
<path d="M0.3,2.3 L3.1,0 L3.1,10 M0.2,10 L6,10" transform="translate(452.50,319.70) scale(0.717,0.860)" vector-effect="non-scaling-stroke"/>
<path d="M5.6,0 L1,0 L0.5,4.5 C1.3,3.9 2.2,3.7 3,3.7 C4.9,3.7 6,4.9 6,6.8 C6,8.8 4.7,10 3,10 C1.8,10 0.8,9.6 0,8.8" transform="translate(462.05,335.20) scale(1.033,0.860)" vector-effect="non-scaling-stroke"/>
<path d="M0.3,2.3 L3.1,0 L3.1,10 M0.2,10 L6,10" transform="translate(470.65,335.20) scale(0.717,0.860)" vector-effect="non-scaling-stroke"/>
<path d="M3,0 C5,0 6,1.6 6,3.6 L6,6.4 C6,8.4 5,10 3,10 C1,10 0,8.4 0,6.4 L0,3.6 C0,1.6 1,0 3,0 Z" transform="translate(477.35,335.20) scale(0.767,0.860)" vector-effect="non-scaling-stroke"/>
<path d="M5.6,0 L1,0 L0.5,4.5 C1.3,3.9 2.2,3.7 3,3.7 C4.9,3.7 6,4.9 6,6.8 C6,8.8 4.7,10 3,10 C1.8,10 0.8,9.6 0,8.8" transform="translate(487.30,350.20) scale(1.033,0.860)" vector-effect="non-scaling-stroke"/>
<path d="M5.6,0 L1,0 L0.5,4.5 C1.3,3.9 2.2,3.7 3,3.7 C4.9,3.7 6,4.9 6,6.8 C6,8.8 4.7,10 3,10 C1.8,10 0.8,9.6 0,8.8" transform="translate(495.90,350.20) scale(1.033,0.860)" vector-effect="non-scaling-stroke"/>
<path d="M0.4,1.3 C1,0.4 2,0 3,0 C4.6,0 5.6,1 5.6,2.5 C5.6,4 4.4,4.8 2.5,4.8 C4.8,4.8 6,5.8 6,7.4 C6,9 4.7,10 3,10 C1.8,10 0.8,9.6 0,8.8" transform="translate(504.50,350.20) scale(1.033,0.860)" vector-effect="non-scaling-stroke"/>
<path d="M5.6,0 L1,0 L0.5,4.5 C1.3,3.9 2.2,3.7 3,3.7 C4.9,3.7 6,4.9 6,6.8 C6,8.8 4.7,10 3,10 C1.8,10 0.8,9.6 0,8.8" transform="translate(517.30,361.70) scale(1.033,0.860)" vector-effect="non-scaling-stroke"/>
<path d="M5.6,0 L1,0 L0.5,4.5 C1.3,3.9 2.2,3.7 3,3.7 C4.9,3.7 6,4.9 6,6.8 C6,8.8 4.7,10 3,10 C1.8,10 0.8,9.6 0,8.8" transform="translate(525.90,361.70) scale(1.033,0.860)" vector-effect="non-scaling-stroke"/>
<path d="M0.2,2.6 C0.6,0.9 1.7,0 3.1,0 C4.9,0 6,1.1 6,2.8 C6,4.3 5,5.3 3.3,6.5 C1.5,7.7 0.1,8.7 0.1,10 L6,10" transform="translate(534.50,361.70) scale(1.033,0.860)" vector-effect="non-scaling-stroke"/>
<path d="M5.4,1 C4.8,0.3 4,0 3.2,0 C1.2,0 0,2.2 0,5.5 C0,8.4 1.2,10 3,10 C4.8,10 6,8.7 6,6.8 C6,4.9 4.8,3.8 3.1,3.8 C1.6,3.8 0.4,4.9 0,6.2" transform="translate(542.10,382.70) scale(1.033,0.860)" vector-effect="non-scaling-stroke"/>
<path d="M3,0 C5,0 6,1.6 6,3.6 L6,6.4 C6,8.4 5,10 3,10 C1,10 0,8.4 0,6.4 L0,3.6 C0,1.6 1,0 3,0 Z" transform="translate(550.70,382.70) scale(0.767,0.860)" vector-effect="non-scaling-stroke"/>
<path d="M5.4,1 C4.8,0.3 4,0 3.2,0 C1.2,0 0,2.2 0,5.5 C0,8.4 1.2,10 3,10 C4.8,10 6,8.7 6,6.8 C6,4.9 4.8,3.8 3.1,3.8 C1.6,3.8 0.4,4.9 0,6.2" transform="translate(557.70,382.70) scale(1.033,0.860)" vector-effect="non-scaling-stroke"/>
<path d="M0,0 L6,0 L2,10" transform="translate(504.30,391.70) scale(1.033,0.860)" vector-effect="non-scaling-stroke"/>
<path d="M0,0 L6,0 L2,10" transform="translate(512.90,391.70) scale(1.033,0.860)" vector-effect="non-scaling-stroke"/>
<path d="M0.4,1.3 C1,0.4 2,0 3,0 C4.6,0 5.6,1 5.6,2.5 C5.6,4 4.4,4.8 2.5,4.8 C4.8,4.8 6,5.8 6,7.4 C6,9 4.7,10 3,10 C1.8,10 0.8,9.6 0,8.8" transform="translate(521.50,391.70) scale(1.033,0.860)" vector-effect="non-scaling-stroke"/>
<path d="M5.6,0 L1,0 L0.5,4.5 C1.3,3.9 2.2,3.7 3,3.7 C4.9,3.7 6,4.9 6,6.8 C6,8.8 4.7,10 3,10 C1.8,10 0.8,9.6 0,8.8" transform="translate(569.60,400.70) scale(1.033,0.860)" vector-effect="non-scaling-stroke"/>
<path d="M3,0 C5,0 6,1.6 6,3.6 L6,6.4 C6,8.4 5,10 3,10 C1,10 0,8.4 0,6.4 L0,3.6 C0,1.6 1,0 3,0 Z" transform="translate(578.20,400.70) scale(0.767,0.860)" vector-effect="non-scaling-stroke"/>
<path d="M0.2,2.6 C0.6,0.9 1.7,0 3.1,0 C4.9,0 6,1.1 6,2.8 C6,4.3 5,5.3 3.3,6.5 C1.5,7.7 0.1,8.7 0.1,10 L6,10" transform="translate(585.20,400.70) scale(1.033,0.860)" vector-effect="non-scaling-stroke"/>
<path d="M4.6,10 L4.6,0 L0,7.1 L6.2,7.1" transform="translate(595.40,208.70) scale(1.033,0.860)" vector-effect="non-scaling-stroke"/>
<path d="M0,0 L6,0 L2,10" transform="translate(604.00,208.70) scale(1.033,0.860)" vector-effect="non-scaling-stroke"/>
<path d="M3,0 C5,0 6,1.6 6,3.6 L6,6.4 C6,8.4 5,10 3,10 C1,10 0,8.4 0,6.4 L0,3.6 C0,1.6 1,0 3,0 Z" transform="translate(612.60,208.70) scale(0.767,0.860)" vector-effect="non-scaling-stroke"/>
<path d="M4.6,10 L4.6,0 L0,7.1 L6.2,7.1" transform="translate(631.30,231.45) scale(1.033,0.860)" vector-effect="non-scaling-stroke"/>
<path d="M5.4,1 C4.8,0.3 4,0 3.2,0 C1.2,0 0,2.2 0,5.5 C0,8.4 1.2,10 3,10 C4.8,10 6,8.7 6,6.8 C6,4.9 4.8,3.8 3.1,3.8 C1.6,3.8 0.4,4.9 0,6.2" transform="translate(639.90,231.45) scale(1.033,0.860)" vector-effect="non-scaling-stroke"/>
<path d="M0.6,9 C1.2,9.7 2,10 2.8,10 C4.8,10 6,7.8 6,4.5 C6,1.6 4.8,0 3,0 C1.2,0 0,1.3 0,3.2 C0,5.1 1.2,6.2 2.9,6.2 C4.4,6.2 5.6,5.1 6,3.8" transform="translate(648.50,231.45) scale(1.033,0.860)" vector-effect="non-scaling-stroke"/>
<path d="M4.6,10 L4.6,0 L0,7.1 L6.2,7.1" transform="translate(669.30,253.70) scale(1.033,0.860)" vector-effect="non-scaling-stroke"/>
<path d="M0,0 L6,0 L2,10" transform="translate(677.90,253.70) scale(1.033,0.860)" vector-effect="non-scaling-stroke"/>
<path d="M0.4,1.3 C1,0.4 2,0 3,0 C4.6,0 5.6,1 5.6,2.5 C5.6,4 4.4,4.8 2.5,4.8 C4.8,4.8 6,5.8 6,7.4 C6,9 4.7,10 3,10 C1.8,10 0.8,9.6 0,8.8" transform="translate(686.50,253.70) scale(1.033,0.860)" vector-effect="non-scaling-stroke"/>
<path d="M4.6,10 L4.6,0 L0,7.1 L6.2,7.1" transform="translate(696.30,270.70) scale(1.033,0.860)" vector-effect="non-scaling-stroke"/>
<path d="M0,0 L6,0 L2,10" transform="translate(704.90,270.70) scale(1.033,0.860)" vector-effect="non-scaling-stroke"/>
<path d="M5.4,1 C4.8,0.3 4,0 3.2,0 C1.2,0 0,2.2 0,5.5 C0,8.4 1.2,10 3,10 C4.8,10 6,8.7 6,6.8 C6,4.9 4.8,3.8 3.1,3.8 C1.6,3.8 0.4,4.9 0,6.2" transform="translate(713.50,270.70) scale(1.033,0.860)" vector-effect="non-scaling-stroke"/>
<path d="M4.6,10 L4.6,0 L0,7.1 L6.2,7.1" transform="translate(744.30,299.70) scale(1.033,0.860)" vector-effect="non-scaling-stroke"/>
<path d="M3,4.7 C1.4,4.7 0.4,3.8 0.4,2.4 C0.4,1 1.5,0 3,0 C4.5,0 5.6,1 5.6,2.4 C5.6,3.8 4.6,4.7 3,4.7 C1.2,4.7 0,5.8 0,7.4 C0,9 1.3,10 3,10 C4.7,10 6,9 6,7.4 C6,5.8 4.8,4.7 3,4.7 Z" transform="translate(752.90,299.70) scale(1.033,0.860)" vector-effect="non-scaling-stroke"/>
<path d="M3,4.7 C1.4,4.7 0.4,3.8 0.4,2.4 C0.4,1 1.5,0 3,0 C4.5,0 5.6,1 5.6,2.4 C5.6,3.8 4.6,4.7 3,4.7 C1.2,4.7 0,5.8 0,7.4 C0,9 1.3,10 3,10 C4.7,10 6,9 6,7.4 C6,5.8 4.8,4.7 3,4.7 Z" transform="translate(761.50,299.70) scale(1.033,0.860)" vector-effect="non-scaling-stroke"/>
<path d="M5.6,0 L1,0 L0.5,4.5 C1.3,3.9 2.2,3.7 3,3.7 C4.9,3.7 6,4.9 6,6.8 C6,8.8 4.7,10 3,10 C1.8,10 0.8,9.6 0,8.8" transform="translate(846.55,361.45) scale(1.033,0.860)" vector-effect="non-scaling-stroke"/>
<path d="M0.4,1.3 C1,0.4 2,0 3,0 C4.6,0 5.6,1 5.6,2.5 C5.6,4 4.4,4.8 2.5,4.8 C4.8,4.8 6,5.8 6,7.4 C6,9 4.7,10 3,10 C1.8,10 0.8,9.6 0,8.8" transform="translate(855.15,361.45) scale(1.033,0.860)" vector-effect="non-scaling-stroke"/>
<path d="M0.4,1.3 C1,0.4 2,0 3,0 C4.6,0 5.6,1 5.6,2.5 C5.6,4 4.4,4.8 2.5,4.8 C4.8,4.8 6,5.8 6,7.4 C6,9 4.7,10 3,10 C1.8,10 0.8,9.6 0,8.8" transform="translate(863.75,361.45) scale(1.033,0.860)" vector-effect="non-scaling-stroke"/>
<path d="M0,0 L6,0 L2,10" transform="translate(543.30,416.70) scale(1.033,0.860)" vector-effect="non-scaling-stroke"/>
<path d="M5.4,1 C4.8,0.3 4,0 3.2,0 C1.2,0 0,2.2 0,5.5 C0,8.4 1.2,10 3,10 C4.8,10 6,8.7 6,6.8 C6,4.9 4.8,3.8 3.1,3.8 C1.6,3.8 0.4,4.9 0,6.2" transform="translate(551.90,416.70) scale(1.033,0.860)" vector-effect="non-scaling-stroke"/>
<path d="M0.2,2.6 C0.6,0.9 1.7,0 3.1,0 C4.9,0 6,1.1 6,2.8 C6,4.3 5,5.3 3.3,6.5 C1.5,7.7 0.1,8.7 0.1,10 L6,10" transform="translate(560.50,416.70) scale(1.033,0.860)" vector-effect="non-scaling-stroke"/>
<path d="M0,0 L6,0 L2,10" transform="translate(600.25,433.70) scale(1.033,0.860)" vector-effect="non-scaling-stroke"/>
<path d="M0.3,2.3 L3.1,0 L3.1,10 M0.2,10 L6,10" transform="translate(608.85,433.70) scale(0.717,0.860)" vector-effect="non-scaling-stroke"/>
<path d="M3,4.7 C1.4,4.7 0.4,3.8 0.4,2.4 C0.4,1 1.5,0 3,0 C4.5,0 5.6,1 5.6,2.4 C5.6,3.8 4.6,4.7 3,4.7 C1.2,4.7 0,5.8 0,7.4 C0,9 1.3,10 3,10 C4.7,10 6,9 6,7.4 C6,5.8 4.8,4.7 3,4.7 Z" transform="translate(615.55,433.70) scale(1.033,0.860)" vector-effect="non-scaling-stroke"/>
<path d="M4.6,10 L4.6,0 L0,7.1 L6.2,7.1" transform="translate(908.80,399.45) scale(1.033,0.860)" vector-effect="non-scaling-stroke"/>
<path d="M3,4.7 C1.4,4.7 0.4,3.8 0.4,2.4 C0.4,1 1.5,0 3,0 C4.5,0 5.6,1 5.6,2.4 C5.6,3.8 4.6,4.7 3,4.7 C1.2,4.7 0,5.8 0,7.4 C0,9 1.3,10 3,10 C4.7,10 6,9 6,7.4 C6,5.8 4.8,4.7 3,4.7 Z" transform="translate(917.40,399.45) scale(1.033,0.860)" vector-effect="non-scaling-stroke"/>
<path d="M0.6,9 C1.2,9.7 2,10 2.8,10 C4.8,10 6,7.8 6,4.5 C6,1.6 4.8,0 3,0 C1.2,0 0,1.3 0,3.2 C0,5.1 1.2,6.2 2.9,6.2 C4.4,6.2 5.6,5.1 6,3.8" transform="translate(926.00,399.45) scale(1.033,0.860)" vector-effect="non-scaling-stroke"/>
<path d="M4.6,10 L4.6,0 L0,7.1 L6.2,7.1" transform="translate(941.10,418.20) scale(1.033,0.860)" vector-effect="non-scaling-stroke"/>
<path d="M0.6,9 C1.2,9.7 2,10 2.8,10 C4.8,10 6,7.8 6,4.5 C6,1.6 4.8,0 3,0 C1.2,0 0,1.3 0,3.2 C0,5.1 1.2,6.2 2.9,6.2 C4.4,6.2 5.6,5.1 6,3.8" transform="translate(949.70,418.20) scale(1.033,0.860)" vector-effect="non-scaling-stroke"/>
<path d="M3,0 C5,0 6,1.6 6,3.6 L6,6.4 C6,8.4 5,10 3,10 C1,10 0,8.4 0,6.4 L0,3.6 C0,1.6 1,0 3,0 Z" transform="translate(958.30,418.20) scale(0.767,0.860)" vector-effect="non-scaling-stroke"/>
<path d="M4.6,10 L4.6,0 L0,7.1 L6.2,7.1" transform="translate(984.30,444.70) scale(1.033,0.860)" vector-effect="non-scaling-stroke"/>
<path d="M0.6,9 C1.2,9.7 2,10 2.8,10 C4.8,10 6,7.8 6,4.5 C6,1.6 4.8,0 3,0 C1.2,0 0,1.3 0,3.2 C0,5.1 1.2,6.2 2.9,6.2 C4.4,6.2 5.6,5.1 6,3.8" transform="translate(992.90,444.70) scale(1.033,0.860)" vector-effect="non-scaling-stroke"/>
<path d="M0.6,9 C1.2,9.7 2,10 2.8,10 C4.8,10 6,7.8 6,4.5 C6,1.6 4.8,0 3,0 C1.2,0 0,1.3 0,3.2 C0,5.1 1.2,6.2 2.9,6.2 C4.4,6.2 5.6,5.1 6,3.8" transform="translate(1001.50,444.70) scale(1.033,0.860)" vector-effect="non-scaling-stroke"/>
<path d="M4.6,10 L4.6,0 L0,7.1 L6.2,7.1" transform="translate(1028.30,471.45) scale(1.033,0.860)" vector-effect="non-scaling-stroke"/>
<path d="M0.6,9 C1.2,9.7 2,10 2.8,10 C4.8,10 6,7.8 6,4.5 C6,1.6 4.8,0 3,0 C1.2,0 0,1.3 0,3.2 C0,5.1 1.2,6.2 2.9,6.2 C4.4,6.2 5.6,5.1 6,3.8" transform="translate(1036.90,471.45) scale(1.033,0.860)" vector-effect="non-scaling-stroke"/>
<path d="M0.4,1.3 C1,0.4 2,0 3,0 C4.6,0 5.6,1 5.6,2.5 C5.6,4 4.4,4.8 2.5,4.8 C4.8,4.8 6,5.8 6,7.4 C6,9 4.7,10 3,10 C1.8,10 0.8,9.6 0,8.8" transform="translate(1045.50,471.45) scale(1.033,0.860)" vector-effect="non-scaling-stroke"/>
<path d="M5.6,0 L1,0 L0.5,4.5 C1.3,3.9 2.2,3.7 3,3.7 C4.9,3.7 6,4.9 6,6.8 C6,8.8 4.7,10 3,10 C1.8,10 0.8,9.6 0,8.8" transform="translate(1094.60,511.70) scale(1.033,0.860)" vector-effect="non-scaling-stroke"/>
<path d="M3,0 C5,0 6,1.6 6,3.6 L6,6.4 C6,8.4 5,10 3,10 C1,10 0,8.4 0,6.4 L0,3.6 C0,1.6 1,0 3,0 Z" transform="translate(1103.20,511.70) scale(0.767,0.860)" vector-effect="non-scaling-stroke"/>
<path d="M5.6,0 L1,0 L0.5,4.5 C1.3,3.9 2.2,3.7 3,3.7 C4.9,3.7 6,4.9 6,6.8 C6,8.8 4.7,10 3,10 C1.8,10 0.8,9.6 0,8.8" transform="translate(1110.20,511.70) scale(1.033,0.860)" vector-effect="non-scaling-stroke"/>
<path d="M5.6,0 L1,0 L0.5,4.5 C1.3,3.9 2.2,3.7 3,3.7 C4.9,3.7 6,4.9 6,6.8 C6,8.8 4.7,10 3,10 C1.8,10 0.8,9.6 0,8.8" transform="translate(840.10,565.20) scale(1.033,0.860)" vector-effect="non-scaling-stroke"/>
<path d="M3,0 C5,0 6,1.6 6,3.6 L6,6.4 C6,8.4 5,10 3,10 C1,10 0,8.4 0,6.4 L0,3.6 C0,1.6 1,0 3,0 Z" transform="translate(848.70,565.20) scale(0.767,0.860)" vector-effect="non-scaling-stroke"/>
<path d="M3,4.7 C1.4,4.7 0.4,3.8 0.4,2.4 C0.4,1 1.5,0 3,0 C4.5,0 5.6,1 5.6,2.4 C5.6,3.8 4.6,4.7 3,4.7 C1.2,4.7 0,5.8 0,7.4 C0,9 1.3,10 3,10 C4.7,10 6,9 6,7.4 C6,5.8 4.8,4.7 3,4.7 Z" transform="translate(855.70,565.20) scale(1.033,0.860)" vector-effect="non-scaling-stroke"/>
<path d="M0,0 L6,0 L2,10" transform="translate(885.30,594.70) scale(1.033,0.860)" vector-effect="non-scaling-stroke"/>
<path d="M0,0 L6,0 L2,10" transform="translate(893.90,594.70) scale(1.033,0.860)" vector-effect="non-scaling-stroke"/>
<path d="M0.6,9 C1.2,9.7 2,10 2.8,10 C4.8,10 6,7.8 6,4.5 C6,1.6 4.8,0 3,0 C1.2,0 0,1.3 0,3.2 C0,5.1 1.2,6.2 2.9,6.2 C4.4,6.2 5.6,5.1 6,3.8" transform="translate(902.50,594.70) scale(1.033,0.860)" vector-effect="non-scaling-stroke"/>
<path d="M5.6,0 L1,0 L0.5,4.5 C1.3,3.9 2.2,3.7 3,3.7 C4.9,3.7 6,4.9 6,6.8 C6,8.8 4.7,10 3,10 C1.8,10 0.8,9.6 0,8.8" transform="translate(923.10,615.20) scale(1.033,0.860)" vector-effect="non-scaling-stroke"/>
<path d="M3,0 C5,0 6,1.6 6,3.6 L6,6.4 C6,8.4 5,10 3,10 C1,10 0,8.4 0,6.4 L0,3.6 C0,1.6 1,0 3,0 Z" transform="translate(931.70,615.20) scale(0.767,0.860)" vector-effect="non-scaling-stroke"/>
<path d="M5.4,1 C4.8,0.3 4,0 3.2,0 C1.2,0 0,2.2 0,5.5 C0,8.4 1.2,10 3,10 C4.8,10 6,8.7 6,6.8 C6,4.9 4.8,3.8 3.1,3.8 C1.6,3.8 0.4,4.9 0,6.2" transform="translate(938.70,615.20) scale(1.033,0.860)" vector-effect="non-scaling-stroke"/>
<path d="M0,0 L6,0 L2,10" transform="translate(387.80,532.70) scale(1.033,0.860)" vector-effect="non-scaling-stroke"/>
<path d="M0,0 L6,0 L2,10" transform="translate(396.40,532.70) scale(1.033,0.860)" vector-effect="non-scaling-stroke"/>
<path d="M4.6,10 L4.6,0 L0,7.1 L6.2,7.1" transform="translate(405.00,532.70) scale(1.033,0.860)" vector-effect="non-scaling-stroke"/>
<path d="M0,0 L6,0 L2,10" transform="translate(415.80,550.20) scale(1.033,0.860)" vector-effect="non-scaling-stroke"/>
<path d="M0,0 L6,0 L2,10" transform="translate(424.40,550.20) scale(1.033,0.860)" vector-effect="non-scaling-stroke"/>
<path d="M0.2,2.6 C0.6,0.9 1.7,0 3.1,0 C4.9,0 6,1.1 6,2.8 C6,4.3 5,5.3 3.3,6.5 C1.5,7.7 0.1,8.7 0.1,10 L6,10" transform="translate(433.00,550.20) scale(1.033,0.860)" vector-effect="non-scaling-stroke"/>
<path d="M0,0 L6,0 L2,10" transform="translate(448.30,572.20) scale(1.033,0.860)" vector-effect="non-scaling-stroke"/>
<path d="M0,0 L6,0 L2,10" transform="translate(456.90,572.20) scale(1.033,0.860)" vector-effect="non-scaling-stroke"/>
<path d="M0.4,1.3 C1,0.4 2,0 3,0 C4.6,0 5.6,1 5.6,2.5 C5.6,4 4.4,4.8 2.5,4.8 C4.8,4.8 6,5.8 6,7.4 C6,9 4.7,10 3,10 C1.8,10 0.8,9.6 0,8.8" transform="translate(465.50,572.20) scale(1.033,0.860)" vector-effect="non-scaling-stroke"/>
<path d="M0,0 L6,0 L2,10" transform="translate(483.75,594.70) scale(1.033,0.860)" vector-effect="non-scaling-stroke"/>
<path d="M5.4,1 C4.8,0.3 4,0 3.2,0 C1.2,0 0,2.2 0,5.5 C0,8.4 1.2,10 3,10 C4.8,10 6,8.7 6,6.8 C6,4.9 4.8,3.8 3.1,3.8 C1.6,3.8 0.4,4.9 0,6.2" transform="translate(492.35,594.70) scale(1.033,0.860)" vector-effect="non-scaling-stroke"/>
<path d="M0.3,2.3 L3.1,0 L3.1,10 M0.2,10 L6,10" transform="translate(500.95,594.70) scale(0.717,0.860)" vector-effect="non-scaling-stroke"/>
<path d="M0,0 L6,0 L2,10" transform="translate(527.05,623.45) scale(1.033,0.860)" vector-effect="non-scaling-stroke"/>
<path d="M0,0 L6,0 L2,10" transform="translate(535.65,623.45) scale(1.033,0.860)" vector-effect="non-scaling-stroke"/>
<path d="M0,0 L6,0 L2,10" transform="translate(544.25,623.45) scale(1.033,0.860)" vector-effect="non-scaling-stroke"/>
<path d="M0,0 L6,0 L2,10" transform="translate(568.30,650.45) scale(1.033,0.860)" vector-effect="non-scaling-stroke"/>
<path d="M0,0 L6,0 L2,10" transform="translate(576.90,650.45) scale(1.033,0.860)" vector-effect="non-scaling-stroke"/>
<path d="M3,4.7 C1.4,4.7 0.4,3.8 0.4,2.4 C0.4,1 1.5,0 3,0 C4.5,0 5.6,1 5.6,2.4 C5.6,3.8 4.6,4.7 3,4.7 C1.2,4.7 0,5.8 0,7.4 C0,9 1.3,10 3,10 C4.7,10 6,9 6,7.4 C6,5.8 4.8,4.7 3,4.7 Z" transform="translate(585.50,650.45) scale(1.033,0.860)" vector-effect="non-scaling-stroke"/>
<path d="M0.3,2.3 L3.1,0 L3.1,10 M0.2,10 L6,10" transform="translate(446.00,606.20) scale(0.717,0.860)" vector-effect="non-scaling-stroke"/>
<path d="M0.2,2.6 C0.6,0.9 1.7,0 3.1,0 C4.9,0 6,1.1 6,2.8 C6,4.3 5,5.3 3.3,6.5 C1.5,7.7 0.1,8.7 0.1,10 L6,10" transform="translate(452.70,606.20) scale(1.033,0.860)" vector-effect="non-scaling-stroke"/>
<path d="M4.6,10 L4.6,0 L0,7.1 L6.2,7.1" transform="translate(461.30,606.20) scale(1.033,0.860)" vector-effect="non-scaling-stroke"/>
<path d="M0.3,2.3 L3.1,0 L3.1,10 M0.2,10 L6,10" transform="translate(446.95,643.70) scale(0.717,0.860)" vector-effect="non-scaling-stroke"/>
<path d="M0.3,2.3 L3.1,0 L3.1,10 M0.2,10 L6,10" transform="translate(453.65,643.70) scale(0.717,0.860)" vector-effect="non-scaling-stroke"/>
<path d="M0,0 L6,0 L2,10" transform="translate(460.35,643.70) scale(1.033,0.860)" vector-effect="non-scaling-stroke"/>
<path d="M0.3,2.3 L3.1,0 L3.1,10 M0.2,10 L6,10" transform="translate(446.95,680.70) scale(0.717,0.860)" vector-effect="non-scaling-stroke"/>
<path d="M0.2,2.6 C0.6,0.9 1.7,0 3.1,0 C4.9,0 6,1.1 6,2.8 C6,4.3 5,5.3 3.3,6.5 C1.5,7.7 0.1,8.7 0.1,10 L6,10" transform="translate(453.65,680.70) scale(1.033,0.860)" vector-effect="non-scaling-stroke"/>
<path d="M0.3,2.3 L3.1,0 L3.1,10 M0.2,10 L6,10" transform="translate(462.25,680.70) scale(0.717,0.860)" vector-effect="non-scaling-stroke"/>
<path d="M0.3,2.3 L3.1,0 L3.1,10 M0.2,10 L6,10" transform="translate(448.05,723.20) scale(0.717,0.860)" vector-effect="non-scaling-stroke"/>
<path d="M3,0 C5,0 6,1.6 6,3.6 L6,6.4 C6,8.4 5,10 3,10 C1,10 0,8.4 0,6.4 L0,3.6 C0,1.6 1,0 3,0 Z" transform="translate(454.75,723.20) scale(0.767,0.860)" vector-effect="non-scaling-stroke"/>
<path d="M0,0 L6,0 L2,10" transform="translate(461.75,723.20) scale(1.033,0.860)" vector-effect="non-scaling-stroke"/>
<path d="M0.3,2.3 L3.1,0 L3.1,10 M0.2,10 L6,10" transform="translate(446.80,779.95) scale(0.717,0.860)" vector-effect="non-scaling-stroke"/>
<path d="M0.2,2.6 C0.6,0.9 1.7,0 3.1,0 C4.9,0 6,1.1 6,2.8 C6,4.3 5,5.3 3.3,6.5 C1.5,7.7 0.1,8.7 0.1,10 L6,10" transform="translate(453.50,779.95) scale(1.033,0.860)" vector-effect="non-scaling-stroke"/>
<path d="M3,0 C5,0 6,1.6 6,3.6 L6,6.4 C6,8.4 5,10 3,10 C1,10 0,8.4 0,6.4 L0,3.6 C0,1.6 1,0 3,0 Z" transform="translate(462.10,779.95) scale(0.767,0.860)" vector-effect="non-scaling-stroke"/>
<path d="M0.3,2.3 L3.1,0 L3.1,10 M0.2,10 L6,10" transform="translate(322.20,819.70) scale(0.717,0.860)" vector-effect="non-scaling-stroke"/>
<path d="M0.3,2.3 L3.1,0 L3.1,10 M0.2,10 L6,10" transform="translate(328.90,819.70) scale(0.717,0.860)" vector-effect="non-scaling-stroke"/>
<path d="M0.4,1.3 C1,0.4 2,0 3,0 C4.6,0 5.6,1 5.6,2.5 C5.6,4 4.4,4.8 2.5,4.8 C4.8,4.8 6,5.8 6,7.4 C6,9 4.7,10 3,10 C1.8,10 0.8,9.6 0,8.8" transform="translate(335.60,819.70) scale(1.033,0.860)" vector-effect="non-scaling-stroke"/>
<path d="M0.3,2.3 L3.1,0 L3.1,10 M0.2,10 L6,10" transform="translate(365.20,819.70) scale(0.717,0.860)" vector-effect="non-scaling-stroke"/>
<path d="M0.3,2.3 L3.1,0 L3.1,10 M0.2,10 L6,10" transform="translate(371.90,819.70) scale(0.717,0.860)" vector-effect="non-scaling-stroke"/>
<path d="M3,4.7 C1.4,4.7 0.4,3.8 0.4,2.4 C0.4,1 1.5,0 3,0 C4.5,0 5.6,1 5.6,2.4 C5.6,3.8 4.6,4.7 3,4.7 C1.2,4.7 0,5.8 0,7.4 C0,9 1.3,10 3,10 C4.7,10 6,9 6,7.4 C6,5.8 4.8,4.7 3,4.7 Z" transform="translate(378.60,819.70) scale(1.033,0.860)" vector-effect="non-scaling-stroke"/>
<path d="M0.3,2.3 L3.1,0 L3.1,10 M0.2,10 L6,10" transform="translate(410.20,819.70) scale(0.717,0.860)" vector-effect="non-scaling-stroke"/>
<path d="M0.3,2.3 L3.1,0 L3.1,10 M0.2,10 L6,10" transform="translate(416.90,819.70) scale(0.717,0.860)" vector-effect="non-scaling-stroke"/>
<path d="M0.6,9 C1.2,9.7 2,10 2.8,10 C4.8,10 6,7.8 6,4.5 C6,1.6 4.8,0 3,0 C1.2,0 0,1.3 0,3.2 C0,5.1 1.2,6.2 2.9,6.2 C4.4,6.2 5.6,5.1 6,3.8" transform="translate(423.60,819.70) scale(1.033,0.860)" vector-effect="non-scaling-stroke"/>
<path d="M0,0 L6,0 L2,10" transform="translate(828.30,647.95) scale(1.033,0.860)" vector-effect="non-scaling-stroke"/>
<path d="M0.6,9 C1.2,9.7 2,10 2.8,10 C4.8,10 6,7.8 6,4.5 C6,1.6 4.8,0 3,0 C1.2,0 0,1.3 0,3.2 C0,5.1 1.2,6.2 2.9,6.2 C4.4,6.2 5.6,5.1 6,3.8" transform="translate(836.90,647.95) scale(1.033,0.860)" vector-effect="non-scaling-stroke"/>
<path d="M0,0 L6,0 L2,10" transform="translate(845.50,647.95) scale(1.033,0.860)" vector-effect="non-scaling-stroke"/>
<path d="M0,0 L6,0 L2,10" transform="translate(810.80,686.70) scale(1.033,0.860)" vector-effect="non-scaling-stroke"/>
<path d="M0.6,9 C1.2,9.7 2,10 2.8,10 C4.8,10 6,7.8 6,4.5 C6,1.6 4.8,0 3,0 C1.2,0 0,1.3 0,3.2 C0,5.1 1.2,6.2 2.9,6.2 C4.4,6.2 5.6,5.1 6,3.8" transform="translate(819.40,686.70) scale(1.033,0.860)" vector-effect="non-scaling-stroke"/>
<path d="M0,0 L6,0 L2,10" transform="translate(828.00,686.70) scale(1.033,0.860)" vector-effect="non-scaling-stroke"/>
<path d="M0,0 L6,0 L2,10" transform="translate(734.25,702.95) scale(1.033,0.860)" vector-effect="non-scaling-stroke"/>
<path d="M5.6,0 L1,0 L0.5,4.5 C1.3,3.9 2.2,3.7 3,3.7 C4.9,3.7 6,4.9 6,6.8 C6,8.8 4.7,10 3,10 C1.8,10 0.8,9.6 0,8.8" transform="translate(742.85,702.95) scale(1.033,0.860)" vector-effect="non-scaling-stroke"/>
<path d="M0.3,2.3 L3.1,0 L3.1,10 M0.2,10 L6,10" transform="translate(751.45,702.95) scale(0.717,0.860)" vector-effect="non-scaling-stroke"/>
<path d="M0.3,2.3 L3.1,0 L3.1,10 M0.2,10 L6,10" transform="translate(295.35,342.40) scale(0.717,0.860)" vector-effect="non-scaling-stroke"/>
<path d="M0.3,2.3 L3.1,0 L3.1,10 M0.2,10 L6,10" transform="translate(302.05,342.40) scale(0.717,0.860)" vector-effect="non-scaling-stroke"/>
<path d="M0.3,2.3 L3.1,0 L3.1,10 M0.2,10 L6,10" transform="translate(308.75,342.40) scale(0.717,0.860)" vector-effect="non-scaling-stroke"/>
<path d="M0.3,2.3 L3.1,0 L3.1,10 M0.2,10 L6,10" transform="translate(295.20,384.00) scale(0.717,0.860)" vector-effect="non-scaling-stroke"/>
<path d="M0.3,2.3 L3.1,0 L3.1,10 M0.2,10 L6,10" transform="translate(301.90,384.00) scale(0.717,0.860)" vector-effect="non-scaling-stroke"/>
<path d="M3,0 C5,0 6,1.6 6,3.6 L6,6.4 C6,8.4 5,10 3,10 C1,10 0,8.4 0,6.4 L0,3.6 C0,1.6 1,0 3,0 Z" transform="translate(308.60,384.00) scale(0.767,0.860)" vector-effect="non-scaling-stroke"/>
<path d="M0.3,2.3 L3.1,0 L3.1,10 M0.2,10 L6,10" transform="translate(84.20,387.20) scale(0.717,0.860)" vector-effect="non-scaling-stroke"/>
<path d="M0.3,2.3 L3.1,0 L3.1,10 M0.2,10 L6,10" transform="translate(90.90,387.20) scale(0.717,0.860)" vector-effect="non-scaling-stroke"/>
<path d="M0.2,2.6 C0.6,0.9 1.7,0 3.1,0 C4.9,0 6,1.1 6,2.8 C6,4.3 5,5.3 3.3,6.5 C1.5,7.7 0.1,8.7 0.1,10 L6,10" transform="translate(97.60,387.20) scale(1.033,0.860)" vector-effect="non-scaling-stroke"/>
<path d="M0.3,2.3 L3.1,0 L3.1,10 M0.2,10 L6,10" transform="translate(294.25,429.00) scale(0.717,0.860)" vector-effect="non-scaling-stroke"/>
<path d="M3,0 C5,0 6,1.6 6,3.6 L6,6.4 C6,8.4 5,10 3,10 C1,10 0,8.4 0,6.4 L0,3.6 C0,1.6 1,0 3,0 Z" transform="translate(300.95,429.00) scale(0.767,0.860)" vector-effect="non-scaling-stroke"/>
<path d="M0.6,9 C1.2,9.7 2,10 2.8,10 C4.8,10 6,7.8 6,4.5 C6,1.6 4.8,0 3,0 C1.2,0 0,1.3 0,3.2 C0,5.1 1.2,6.2 2.9,6.2 C4.4,6.2 5.6,5.1 6,3.8" transform="translate(307.95,429.00) scale(1.033,0.860)" vector-effect="non-scaling-stroke"/>
<path d="M0.3,2.3 L3.1,0 L3.1,10 M0.2,10 L6,10" transform="translate(86.50,460.20) scale(0.717,0.860)" vector-effect="non-scaling-stroke"/>
<path d="M3,0 C5,0 6,1.6 6,3.6 L6,6.4 C6,8.4 5,10 3,10 C1,10 0,8.4 0,6.4 L0,3.6 C0,1.6 1,0 3,0 Z" transform="translate(93.20,460.20) scale(0.767,0.860)" vector-effect="non-scaling-stroke"/>
<path d="M0.3,2.3 L3.1,0 L3.1,10 M0.2,10 L6,10" transform="translate(100.20,460.20) scale(0.717,0.860)" vector-effect="non-scaling-stroke"/>
<path d="M0.3,2.3 L3.1,0 L3.1,10 M0.2,10 L6,10" transform="translate(294.25,462.40) scale(0.717,0.860)" vector-effect="non-scaling-stroke"/>
<path d="M3,0 C5,0 6,1.6 6,3.6 L6,6.4 C6,8.4 5,10 3,10 C1,10 0,8.4 0,6.4 L0,3.6 C0,1.6 1,0 3,0 Z" transform="translate(300.95,462.40) scale(0.767,0.860)" vector-effect="non-scaling-stroke"/>
<path d="M3,4.7 C1.4,4.7 0.4,3.8 0.4,2.4 C0.4,1 1.5,0 3,0 C4.5,0 5.6,1 5.6,2.4 C5.6,3.8 4.6,4.7 3,4.7 C1.2,4.7 0,5.8 0,7.4 C0,9 1.3,10 3,10 C4.7,10 6,9 6,7.4 C6,5.8 4.8,4.7 3,4.7 Z" transform="translate(307.95,462.40) scale(1.033,0.860)" vector-effect="non-scaling-stroke"/>
<path d="M0.3,2.3 L3.1,0 L3.1,10 M0.2,10 L6,10" transform="translate(294.25,489.90) scale(0.717,0.860)" vector-effect="non-scaling-stroke"/>
<path d="M3,0 C5,0 6,1.6 6,3.6 L6,6.4 C6,8.4 5,10 3,10 C1,10 0,8.4 0,6.4 L0,3.6 C0,1.6 1,0 3,0 Z" transform="translate(300.95,489.90) scale(0.767,0.860)" vector-effect="non-scaling-stroke"/>
<path d="M0,0 L6,0 L2,10" transform="translate(307.95,489.90) scale(1.033,0.860)" vector-effect="non-scaling-stroke"/>
<path d="M0.3,2.3 L3.1,0 L3.1,10 M0.2,10 L6,10" transform="translate(84.75,525.70) scale(0.717,0.860)" vector-effect="non-scaling-stroke"/>
<path d="M0.2,2.6 C0.6,0.9 1.7,0 3.1,0 C4.9,0 6,1.1 6,2.8 C6,4.3 5,5.3 3.3,6.5 C1.5,7.7 0.1,8.7 0.1,10 L6,10" transform="translate(91.45,525.70) scale(1.033,0.860)" vector-effect="non-scaling-stroke"/>
<path d="M0.2,2.6 C0.6,0.9 1.7,0 3.1,0 C4.9,0 6,1.1 6,2.8 C6,4.3 5,5.3 3.3,6.5 C1.5,7.7 0.1,8.7 0.1,10 L6,10" transform="translate(100.05,525.70) scale(1.033,0.860)" vector-effect="non-scaling-stroke"/>
<path d="M0.3,2.3 L3.1,0 L3.1,10 M0.2,10 L6,10" transform="translate(294.25,524.40) scale(0.717,0.860)" vector-effect="non-scaling-stroke"/>
<path d="M3,0 C5,0 6,1.6 6,3.6 L6,6.4 C6,8.4 5,10 3,10 C1,10 0,8.4 0,6.4 L0,3.6 C0,1.6 1,0 3,0 Z" transform="translate(300.95,524.40) scale(0.767,0.860)" vector-effect="non-scaling-stroke"/>
<path d="M5.4,1 C4.8,0.3 4,0 3.2,0 C1.2,0 0,2.2 0,5.5 C0,8.4 1.2,10 3,10 C4.8,10 6,8.7 6,6.8 C6,4.9 4.8,3.8 3.1,3.8 C1.6,3.8 0.4,4.9 0,6.2" transform="translate(307.95,524.40) scale(1.033,0.860)" vector-effect="non-scaling-stroke"/>
<path d="M0.3,2.3 L3.1,0 L3.1,10 M0.2,10 L6,10" transform="translate(86.20,609.20) scale(0.717,0.860)" vector-effect="non-scaling-stroke"/>
<path d="M0.3,2.3 L3.1,0 L3.1,10 M0.2,10 L6,10" transform="translate(92.90,609.20) scale(0.717,0.860)" vector-effect="non-scaling-stroke"/>
<path d="M4.6,10 L4.6,0 L0,7.1 L6.2,7.1" transform="translate(99.60,609.20) scale(1.033,0.860)" vector-effect="non-scaling-stroke"/>
<path d="M0.3,2.3 L3.1,0 L3.1,10 M0.2,10 L6,10" transform="translate(296.00,591.70) scale(0.717,0.860)" vector-effect="non-scaling-stroke"/>
<path d="M3,0 C5,0 6,1.6 6,3.6 L6,6.4 C6,8.4 5,10 3,10 C1,10 0,8.4 0,6.4 L0,3.6 C0,1.6 1,0 3,0 Z" transform="translate(302.70,591.70) scale(0.767,0.860)" vector-effect="non-scaling-stroke"/>
<path d="M0.3,2.3 L3.1,0 L3.1,10 M0.2,10 L6,10" transform="translate(309.70,591.70) scale(0.717,0.860)" vector-effect="non-scaling-stroke"/>
<path d="M0.3,2.3 L3.1,0 L3.1,10 M0.2,10 L6,10" transform="translate(294.55,643.70) scale(0.717,0.860)" vector-effect="non-scaling-stroke"/>
<path d="M3,0 C5,0 6,1.6 6,3.6 L6,6.4 C6,8.4 5,10 3,10 C1,10 0,8.4 0,6.4 L0,3.6 C0,1.6 1,0 3,0 Z" transform="translate(301.25,643.70) scale(0.767,0.860)" vector-effect="non-scaling-stroke"/>
<path d="M5.6,0 L1,0 L0.5,4.5 C1.3,3.9 2.2,3.7 3,3.7 C4.9,3.7 6,4.9 6,6.8 C6,8.8 4.7,10 3,10 C1.8,10 0.8,9.6 0,8.8" transform="translate(308.25,643.70) scale(1.033,0.860)" vector-effect="non-scaling-stroke"/>
<path d="M0.3,2.3 L3.1,0 L3.1,10 M0.2,10 L6,10" transform="translate(294.55,685.20) scale(0.717,0.860)" vector-effect="non-scaling-stroke"/>
<path d="M3,0 C5,0 6,1.6 6,3.6 L6,6.4 C6,8.4 5,10 3,10 C1,10 0,8.4 0,6.4 L0,3.6 C0,1.6 1,0 3,0 Z" transform="translate(301.25,685.20) scale(0.767,0.860)" vector-effect="non-scaling-stroke"/>
<path d="M4.6,10 L4.6,0 L0,7.1 L6.2,7.1" transform="translate(308.25,685.20) scale(1.033,0.860)" vector-effect="non-scaling-stroke"/>
<path d="M0.3,2.3 L3.1,0 L3.1,10 M0.2,10 L6,10" transform="translate(294.55,713.20) scale(0.717,0.860)" vector-effect="non-scaling-stroke"/>
<path d="M3,0 C5,0 6,1.6 6,3.6 L6,6.4 C6,8.4 5,10 3,10 C1,10 0,8.4 0,6.4 L0,3.6 C0,1.6 1,0 3,0 Z" transform="translate(301.25,713.20) scale(0.767,0.860)" vector-effect="non-scaling-stroke"/>
<path d="M0.4,1.3 C1,0.4 2,0 3,0 C4.6,0 5.6,1 5.6,2.5 C5.6,4 4.4,4.8 2.5,4.8 C4.8,4.8 6,5.8 6,7.4 C6,9 4.7,10 3,10 C1.8,10 0.8,9.6 0,8.8" transform="translate(308.25,713.20) scale(1.033,0.860)" vector-effect="non-scaling-stroke"/>
<path d="M0.3,2.3 L3.1,0 L3.1,10 M0.2,10 L6,10" transform="translate(293.75,743.20) scale(0.717,0.860)" vector-effect="non-scaling-stroke"/>
<path d="M0.2,2.6 C0.6,0.9 1.7,0 3.1,0 C4.9,0 6,1.1 6,2.8 C6,4.3 5,5.3 3.3,6.5 C1.5,7.7 0.1,8.7 0.1,10 L6,10" transform="translate(300.45,743.20) scale(1.033,0.860)" vector-effect="non-scaling-stroke"/>
<path d="M0.4,1.3 C1,0.4 2,0 3,0 C4.6,0 5.6,1 5.6,2.5 C5.6,4 4.4,4.8 2.5,4.8 C4.8,4.8 6,5.8 6,7.4 C6,9 4.7,10 3,10 C1.8,10 0.8,9.6 0,8.8" transform="translate(309.05,743.20) scale(1.033,0.860)" vector-effect="non-scaling-stroke"/>
<path d="M0.3,2.3 L3.1,0 L3.1,10 M0.2,10 L6,10" transform="translate(86.50,658.45) scale(0.717,0.860)" vector-effect="non-scaling-stroke"/>
<path d="M3,0 C5,0 6,1.6 6,3.6 L6,6.4 C6,8.4 5,10 3,10 C1,10 0,8.4 0,6.4 L0,3.6 C0,1.6 1,0 3,0 Z" transform="translate(93.20,658.45) scale(0.767,0.860)" vector-effect="non-scaling-stroke"/>
<path d="M0.3,2.3 L3.1,0 L3.1,10 M0.2,10 L6,10" transform="translate(100.20,658.45) scale(0.717,0.860)" vector-effect="non-scaling-stroke"/>
<path d="M0.3,2.3 L3.1,0 L3.1,10 M0.2,10 L6,10" transform="translate(85.70,691.70) scale(0.717,0.860)" vector-effect="non-scaling-stroke"/>
<path d="M0.3,2.3 L3.1,0 L3.1,10 M0.2,10 L6,10" transform="translate(92.40,691.70) scale(0.717,0.860)" vector-effect="non-scaling-stroke"/>
<path d="M5.6,0 L1,0 L0.5,4.5 C1.3,3.9 2.2,3.7 3,3.7 C4.9,3.7 6,4.9 6,6.8 C6,8.8 4.7,10 3,10 C1.8,10 0.8,9.6 0,8.8" transform="translate(99.10,691.70) scale(1.033,0.860)" vector-effect="non-scaling-stroke"/>
<path d="M0.3,2.3 L3.1,0 L3.1,10 M0.2,10 L6,10" transform="translate(86.50,732.20) scale(0.717,0.860)" vector-effect="non-scaling-stroke"/>
<path d="M3,0 C5,0 6,1.6 6,3.6 L6,6.4 C6,8.4 5,10 3,10 C1,10 0,8.4 0,6.4 L0,3.6 C0,1.6 1,0 3,0 Z" transform="translate(93.20,732.20) scale(0.767,0.860)" vector-effect="non-scaling-stroke"/>
<path d="M0.3,2.3 L3.1,0 L3.1,10 M0.2,10 L6,10" transform="translate(100.20,732.20) scale(0.717,0.860)" vector-effect="non-scaling-stroke"/>
<path d="M0.3,2.3 L3.1,0 L3.1,10 M0.2,10 L6,10" transform="translate(85.55,779.70) scale(0.717,0.860)" vector-effect="non-scaling-stroke"/>
<path d="M3,0 C5,0 6,1.6 6,3.6 L6,6.4 C6,8.4 5,10 3,10 C1,10 0,8.4 0,6.4 L0,3.6 C0,1.6 1,0 3,0 Z" transform="translate(92.25,779.70) scale(0.767,0.860)" vector-effect="non-scaling-stroke"/>
<path d="M5.6,0 L1,0 L0.5,4.5 C1.3,3.9 2.2,3.7 3,3.7 C4.9,3.7 6,4.9 6,6.8 C6,8.8 4.7,10 3,10 C1.8,10 0.8,9.6 0,8.8" transform="translate(99.25,779.70) scale(1.033,0.860)" vector-effect="non-scaling-stroke"/>
<path d="M0.3,2.3 L3.1,0 L3.1,10 M0.2,10 L6,10" transform="translate(160.70,822.70) scale(0.717,0.860)" vector-effect="non-scaling-stroke"/>
<path d="M0.3,2.3 L3.1,0 L3.1,10 M0.2,10 L6,10" transform="translate(167.40,822.70) scale(0.717,0.860)" vector-effect="non-scaling-stroke"/>
<path d="M5.4,1 C4.8,0.3 4,0 3.2,0 C1.2,0 0,2.2 0,5.5 C0,8.4 1.2,10 3,10 C4.8,10 6,8.7 6,6.8 C6,4.9 4.8,3.8 3.1,3.8 C1.6,3.8 0.4,4.9 0,6.2" transform="translate(174.10,822.70) scale(1.033,0.860)" vector-effect="non-scaling-stroke"/>
<path d="M0.3,2.3 L3.1,0 L3.1,10 M0.2,10 L6,10" transform="translate(213.25,821.20) scale(0.717,0.860)" vector-effect="non-scaling-stroke"/>
<path d="M0.2,2.6 C0.6,0.9 1.7,0 3.1,0 C4.9,0 6,1.1 6,2.8 C6,4.3 5,5.3 3.3,6.5 C1.5,7.7 0.1,8.7 0.1,10 L6,10" transform="translate(219.95,821.20) scale(1.033,0.860)" vector-effect="non-scaling-stroke"/>
<path d="M5.6,0 L1,0 L0.5,4.5 C1.3,3.9 2.2,3.7 3,3.7 C4.9,3.7 6,4.9 6,6.8 C6,8.8 4.7,10 3,10 C1.8,10 0.8,9.6 0,8.8" transform="translate(228.55,821.20) scale(1.033,0.860)" vector-effect="non-scaling-stroke"/>
<path d="M0.2,2.6 C0.6,0.9 1.7,0 3.1,0 C4.9,0 6,1.1 6,2.8 C6,4.3 5,5.3 3.3,6.5 C1.5,7.7 0.1,8.7 0.1,10 L6,10" transform="translate(892.80,77.15) scale(1.200,1.070)" vector-effect="non-scaling-stroke"/>
<path d="M3,0 C5,0 6,1.6 6,3.6 L6,6.4 C6,8.4 5,10 3,10 C1,10 0,8.4 0,6.4 L0,3.6 C0,1.6 1,0 3,0 Z" transform="translate(903.00,77.15) scale(1.000,1.070)" vector-effect="non-scaling-stroke"/>
<path d="M0.4,1.3 C1,0.4 2,0 3,0 C4.6,0 5.6,1 5.6,2.5 C5.6,4 4.4,4.8 2.5,4.8 C4.8,4.8 6,5.8 6,7.4 C6,9 4.7,10 3,10 C1.8,10 0.8,9.6 0,8.8" transform="translate(912.00,77.15) scale(1.200,1.070)" vector-effect="non-scaling-stroke"/>
<path d="M0.2,2.6 C0.6,0.9 1.7,0 3.1,0 C4.9,0 6,1.1 6,2.8 C6,4.3 5,5.3 3.3,6.5 C1.5,7.7 0.1,8.7 0.1,10 L6,10" transform="translate(820.55,101.65) scale(1.200,1.070)" vector-effect="non-scaling-stroke"/>
<path d="M3,0 C5,0 6,1.6 6,3.6 L6,6.4 C6,8.4 5,10 3,10 C1,10 0,8.4 0,6.4 L0,3.6 C0,1.6 1,0 3,0 Z" transform="translate(830.75,101.65) scale(1.000,1.070)" vector-effect="non-scaling-stroke"/>
<path d="M0.2,2.6 C0.6,0.9 1.7,0 3.1,0 C4.9,0 6,1.1 6,2.8 C6,4.3 5,5.3 3.3,6.5 C1.5,7.7 0.1,8.7 0.1,10 L6,10" transform="translate(839.75,101.65) scale(1.200,1.070)" vector-effect="non-scaling-stroke"/>
<path d="M0.2,2.6 C0.6,0.9 1.7,0 3.1,0 C4.9,0 6,1.1 6,2.8 C6,4.3 5,5.3 3.3,6.5 C1.5,7.7 0.1,8.7 0.1,10 L6,10" transform="translate(969.30,103.65) scale(1.200,1.070)" vector-effect="non-scaling-stroke"/>
<path d="M3,0 C5,0 6,1.6 6,3.6 L6,6.4 C6,8.4 5,10 3,10 C1,10 0,8.4 0,6.4 L0,3.6 C0,1.6 1,0 3,0 Z" transform="translate(979.50,103.65) scale(1.000,1.070)" vector-effect="non-scaling-stroke"/>
<path d="M4.6,10 L4.6,0 L0,7.1 L6.2,7.1" transform="translate(988.50,103.65) scale(1.200,1.070)" vector-effect="non-scaling-stroke"/>
<path d="M0.2,2.6 C0.6,0.9 1.7,0 3.1,0 C4.9,0 6,1.1 6,2.8 C6,4.3 5,5.3 3.3,6.5 C1.5,7.7 0.1,8.7 0.1,10 L6,10" transform="translate(796.70,130.65) scale(1.200,1.070)" vector-effect="non-scaling-stroke"/>
<path d="M0.4,1.3 C1,0.4 2,0 3,0 C4.6,0 5.6,1 5.6,2.5 C5.6,4 4.4,4.8 2.5,4.8 C4.8,4.8 6,5.8 6,7.4 C6,9 4.7,10 3,10 C1.8,10 0.8,9.6 0,8.8" transform="translate(806.90,130.65) scale(1.200,1.070)" vector-effect="non-scaling-stroke"/>
<path d="M0.3,2.3 L3.1,0 L3.1,10 M0.2,10 L6,10" transform="translate(817.10,130.65) scale(0.867,1.070)" vector-effect="non-scaling-stroke"/>
<path d="M0.2,2.6 C0.6,0.9 1.7,0 3.1,0 C4.9,0 6,1.1 6,2.8 C6,4.3 5,5.3 3.3,6.5 C1.5,7.7 0.1,8.7 0.1,10 L6,10" transform="translate(1004.80,154.15) scale(1.200,1.070)" vector-effect="non-scaling-stroke"/>
<path d="M3,0 C5,0 6,1.6 6,3.6 L6,6.4 C6,8.4 5,10 3,10 C1,10 0,8.4 0,6.4 L0,3.6 C0,1.6 1,0 3,0 Z" transform="translate(1015.00,154.15) scale(1.000,1.070)" vector-effect="non-scaling-stroke"/>
<path d="M5.6,0 L1,0 L0.5,4.5 C1.3,3.9 2.2,3.7 3,3.7 C4.9,3.7 6,4.9 6,6.8 C6,8.8 4.7,10 3,10 C1.8,10 0.8,9.6 0,8.8" transform="translate(1024.00,154.15) scale(1.200,1.070)" vector-effect="non-scaling-stroke"/>
<path d="M0.2,2.6 C0.6,0.9 1.7,0 3.1,0 C4.9,0 6,1.1 6,2.8 C6,4.3 5,5.3 3.3,6.5 C1.5,7.7 0.1,8.7 0.1,10 L6,10" transform="translate(781.55,163.65) scale(1.200,1.070)" vector-effect="non-scaling-stroke"/>
<path d="M3,0 C5,0 6,1.6 6,3.6 L6,6.4 C6,8.4 5,10 3,10 C1,10 0,8.4 0,6.4 L0,3.6 C0,1.6 1,0 3,0 Z" transform="translate(791.75,163.65) scale(1.000,1.070)" vector-effect="non-scaling-stroke"/>
<path d="M0.3,2.3 L3.1,0 L3.1,10 M0.2,10 L6,10" transform="translate(800.75,163.65) scale(0.867,1.070)" vector-effect="non-scaling-stroke"/>
<path d="M0.2,2.6 C0.6,0.9 1.7,0 3.1,0 C4.9,0 6,1.1 6,2.8 C6,4.3 5,5.3 3.3,6.5 C1.5,7.7 0.1,8.7 0.1,10 L6,10" transform="translate(1002.80,234.65) scale(1.200,1.070)" vector-effect="non-scaling-stroke"/>
<path d="M3,0 C5,0 6,1.6 6,3.6 L6,6.4 C6,8.4 5,10 3,10 C1,10 0,8.4 0,6.4 L0,3.6 C0,1.6 1,0 3,0 Z" transform="translate(1013.00,234.65) scale(1.000,1.070)" vector-effect="non-scaling-stroke"/>
<path d="M5.4,1 C4.8,0.3 4,0 3.2,0 C1.2,0 0,2.2 0,5.5 C0,8.4 1.2,10 3,10 C4.8,10 6,8.7 6,6.8 C6,4.9 4.8,3.8 3.1,3.8 C1.6,3.8 0.4,4.9 0,6.2" transform="translate(1022.00,234.65) scale(1.200,1.070)" vector-effect="non-scaling-stroke"/>
<path d="M0.2,2.6 C0.6,0.9 1.7,0 3.1,0 C4.9,0 6,1.1 6,2.8 C6,4.3 5,5.3 3.3,6.5 C1.5,7.7 0.1,8.7 0.1,10 L6,10" transform="translate(788.80,243.65) scale(1.200,1.070)" vector-effect="non-scaling-stroke"/>
<path d="M3,0 C5,0 6,1.6 6,3.6 L6,6.4 C6,8.4 5,10 3,10 C1,10 0,8.4 0,6.4 L0,3.6 C0,1.6 1,0 3,0 Z" transform="translate(799.00,243.65) scale(1.000,1.070)" vector-effect="non-scaling-stroke"/>
<path d="M0.6,9 C1.2,9.7 2,10 2.8,10 C4.8,10 6,7.8 6,4.5 C6,1.6 4.8,0 3,0 C1.2,0 0,1.3 0,3.2 C0,5.1 1.2,6.2 2.9,6.2 C4.4,6.2 5.6,5.1 6,3.8" transform="translate(808.00,243.65) scale(1.200,1.070)" vector-effect="non-scaling-stroke"/>
<path d="M0.2,2.6 C0.6,0.9 1.7,0 3.1,0 C4.9,0 6,1.1 6,2.8 C6,4.3 5,5.3 3.3,6.5 C1.5,7.7 0.1,8.7 0.1,10 L6,10" transform="translate(814.80,277.65) scale(1.200,1.070)" vector-effect="non-scaling-stroke"/>
<path d="M3,0 C5,0 6,1.6 6,3.6 L6,6.4 C6,8.4 5,10 3,10 C1,10 0,8.4 0,6.4 L0,3.6 C0,1.6 1,0 3,0 Z" transform="translate(825.00,277.65) scale(1.000,1.070)" vector-effect="non-scaling-stroke"/>
<path d="M5.4,1 C4.8,0.3 4,0 3.2,0 C1.2,0 0,2.2 0,5.5 C0,8.4 1.2,10 3,10 C4.8,10 6,8.7 6,6.8 C6,4.9 4.8,3.8 3.1,3.8 C1.6,3.8 0.4,4.9 0,6.2" transform="translate(834.00,277.65) scale(1.200,1.070)" vector-effect="non-scaling-stroke"/>
<path d="M5.6,0 L1,0 L0.5,4.5 C1.3,3.9 2.2,3.7 3,3.7 C4.9,3.7 6,4.9 6,6.8 C6,8.8 4.7,10 3,10 C1.8,10 0.8,9.6 0,8.8" transform="translate(960.70,288.65) scale(1.200,1.070)" vector-effect="non-scaling-stroke"/>
<path d="M0.3,2.3 L3.1,0 L3.1,10 M0.2,10 L6,10" transform="translate(970.90,288.65) scale(0.867,1.070)" vector-effect="non-scaling-stroke"/>
<path d="M0.3,2.3 L3.1,0 L3.1,10 M0.2,10 L6,10" transform="translate(979.10,288.65) scale(0.867,1.070)" vector-effect="non-scaling-stroke"/>
<path d="M0.2,2.6 C0.6,0.9 1.7,0 3.1,0 C4.9,0 6,1.1 6,2.8 C6,4.3 5,5.3 3.3,6.5 C1.5,7.7 0.1,8.7 0.1,10 L6,10" transform="translate(869.80,306.15) scale(1.200,1.070)" vector-effect="non-scaling-stroke"/>
<path d="M3,0 C5,0 6,1.6 6,3.6 L6,6.4 C6,8.4 5,10 3,10 C1,10 0,8.4 0,6.4 L0,3.6 C0,1.6 1,0 3,0 Z" transform="translate(880.00,306.15) scale(1.000,1.070)" vector-effect="non-scaling-stroke"/>
<path d="M3,4.7 C1.4,4.7 0.4,3.8 0.4,2.4 C0.4,1 1.5,0 3,0 C4.5,0 5.6,1 5.6,2.4 C5.6,3.8 4.6,4.7 3,4.7 C1.2,4.7 0,5.8 0,7.4 C0,9 1.3,10 3,10 C4.7,10 6,9 6,7.4 C6,5.8 4.8,4.7 3,4.7 Z" transform="translate(889.00,306.15) scale(1.200,1.070)" vector-effect="non-scaling-stroke"/>
<path d="M0.2,2.6 C0.6,0.9 1.7,0 3.1,0 C4.9,0 6,1.1 6,2.8 C6,4.3 5,5.3 3.3,6.5 C1.5,7.7 0.1,8.7 0.1,10 L6,10" transform="translate(916.30,306.65) scale(1.200,1.070)" vector-effect="non-scaling-stroke"/>
<path d="M3,0 C5,0 6,1.6 6,3.6 L6,6.4 C6,8.4 5,10 3,10 C1,10 0,8.4 0,6.4 L0,3.6 C0,1.6 1,0 3,0 Z" transform="translate(926.50,306.65) scale(1.000,1.070)" vector-effect="non-scaling-stroke"/>
<path d="M0,0 L6,0 L2,10" transform="translate(935.50,306.65) scale(1.200,1.070)" vector-effect="non-scaling-stroke"/>
</g>
<g fill="#000"><polygon points="506.8,71.2 506.8,31.5 513.8,31.5 524.4,55 535,31.5 542,31.5 542,71.2 536.8,71.2 536.8,39.5 526.9,61 521.9,61 512.1,39.5 512.1,71.2"/><path fill-rule="evenodd" d="M550.3,51.25 A18.45,20.35 0 1 0 587.2,51.25 A18.45,20.35 0 1 0 550.3,51.25 Z M556.3,51.25 A12.45,15.6 0 1 0 581.2,51.25 A12.45,15.6 0 1 0 556.3,51.25 Z"/><path d="M598.25,33.85 L610,33.85 C621.8,33.85 626.8,41.5 626.8,51.1 C626.8,60.8 621.8,68.5 610,68.5 L598.25,68.5 Z" fill="none" stroke="#000" stroke-width="5.3"/><polygon points="647.3,31.25 653.4,31.25 653.4,67.2 661.25,67.2 661.25,71.2 639.4,71.2 639.4,67.2 647.3,67.2 647.3,37.2 639.6,39.2 639.6,34.7"/><path d="M673,35.4 C676,34 679,33.5 682.5,33.5 C689.8,33.5 693.6,37 693.6,42.1 C693.6,47.3 689.6,50.1 683.3,50.1 L679.5,50.1 M683.3,50.1 C690.8,50.1 694.9,53.6 694.9,59.5 C694.9,65.7 690.2,68.8 682.4,68.8 C678.4,68.8 675,68.3 672.2,67.2" fill="none" stroke="#000" stroke-width="5.2"/><path d="M731.3,34.5 L712.2,34.5 L712.2,49.8 C714.2,48.9 716.6,48.4 719.1,48.4 C726.6,48.4 730,52.8 730,59.2 C730,65.7 725.6,68.9 718.4,68.9 C714.4,68.9 711,68.4 708.2,67.4" fill="none" stroke="#000" stroke-width="5.2"/></g>
<polygon points="832,713 927,713 927,840" fill="#d63a3a"/>
<text x="883" y="0" transform="translate(0,780.5) scale(1,0.95)" font-size="80" font-weight="bold" fill="#fff" stroke="#fff" stroke-width="2" textLength="40" lengthAdjust="spacingAndGlyphs">s</text>
<text x="929" y="0" transform="translate(0,780.2) scale(1,0.945)" font-size="80" font-weight="bold" fill="#000" stroke="#000" stroke-width="2.2" textLength="268" lengthAdjust="spacingAndGlyphs">harg.pl</text>
</svg></body></html>
